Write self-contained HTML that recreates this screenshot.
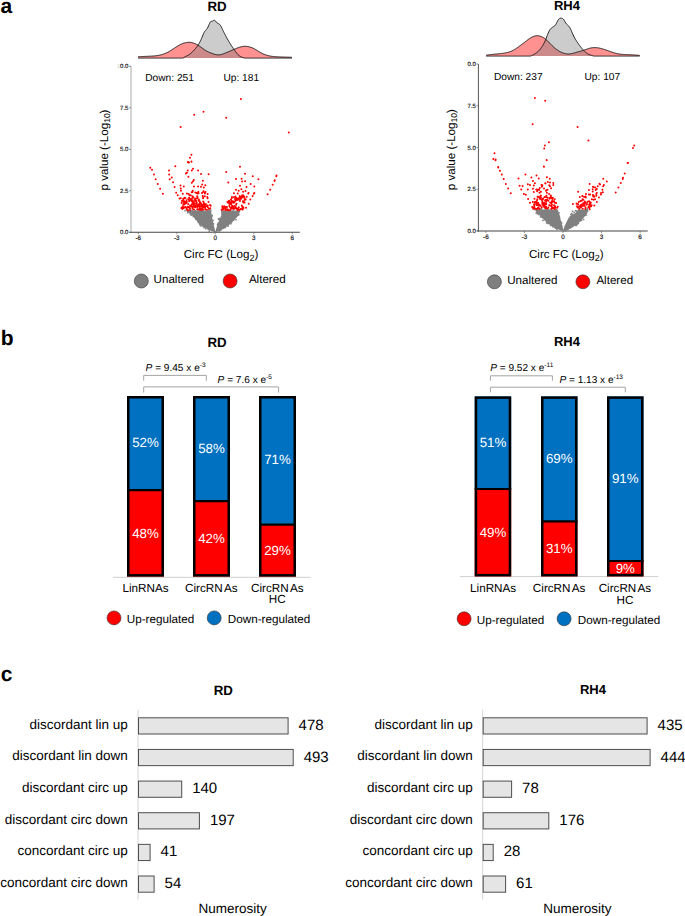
<!DOCTYPE html>
<html><head><meta charset="utf-8"><style>
html,body{margin:0;padding:0;background:#fff;}
svg{display:block;font-family:"Liberation Sans", sans-serif;text-rendering:geometricPrecision;}
</style></head><body>
<svg width="685" height="916" viewBox="0 0 685 916">
<text x="0.60" y="13.10" font-size="21" text-anchor="start" font-weight="bold" fill="#000" >a</text>
<text x="0.80" y="345.20" font-size="21" text-anchor="start" font-weight="bold" fill="#000" >b</text>
<text x="0.80" y="681.00" font-size="21" text-anchor="start" font-weight="bold" fill="#000" >c</text>
<text x="217.00" y="10.90" font-size="13.3" text-anchor="middle" font-weight="bold" fill="#000" >RD</text>
<text x="567.00" y="9.90" font-size="13.0" text-anchor="middle" font-weight="bold" fill="#000" >RH4</text>
<path d="M138.00,58.10 L138.00,56.80 L138.50,56.77 L139.00,56.74 L139.50,56.72 L140.00,56.69 L140.50,56.66 L141.00,56.64 L141.50,56.61 L142.00,56.58 L142.50,56.56 L143.00,56.53 L143.50,56.50 L144.00,56.48 L144.50,56.45 L145.00,56.43 L145.50,56.40 L146.00,56.38 L146.50,56.35 L147.00,56.33 L147.50,56.31 L148.00,56.29 L148.50,56.26 L149.00,56.24 L149.50,56.22 L150.00,56.20 L150.50,56.17 L151.00,56.15 L151.50,56.12 L152.00,56.09 L152.50,56.06 L153.00,56.03 L153.50,55.99 L154.00,55.95 L154.50,55.91 L155.00,55.86 L155.50,55.80 L156.00,55.75 L156.50,55.68 L157.00,55.62 L157.50,55.54 L158.00,55.46 L158.50,55.37 L159.00,55.28 L159.50,55.18 L160.00,55.07 L160.50,54.95 L161.00,54.83 L161.50,54.70 L162.00,54.56 L162.50,54.41 L163.00,54.25 L163.50,54.08 L164.00,53.90 L164.50,53.71 L165.00,53.51 L165.50,53.30 L166.00,53.08 L166.50,52.85 L167.00,52.61 L167.50,52.36 L168.00,52.10 L168.50,51.82 L169.00,51.54 L169.50,51.25 L170.00,50.96 L170.50,50.66 L171.00,50.35 L171.50,50.03 L172.00,49.71 L172.50,49.39 L173.00,49.06 L173.50,48.73 L174.00,48.40 L174.50,48.07 L175.00,47.74 L175.50,47.41 L176.00,47.08 L176.50,46.75 L177.00,46.44 L177.50,46.12 L178.00,45.82 L178.50,45.52 L179.00,45.24 L179.50,44.96 L180.00,44.70 L180.50,44.45 L181.00,44.22 L181.50,44.00 L182.00,43.79 L182.50,43.60 L183.00,43.42 L183.50,43.26 L184.00,43.11 L184.50,42.97 L185.00,42.84 L185.50,42.73 L186.00,42.63 L186.50,42.53 L187.00,42.46 L187.50,42.39 L188.00,42.33 L188.50,42.29 L189.00,42.27 L189.50,42.27 L190.00,42.30 L190.50,42.36 L191.00,42.44 L191.50,42.55 L192.00,42.67 L192.50,42.81 L193.00,42.95 L193.50,43.11 L194.00,43.28 L194.50,43.47 L195.00,43.66 L195.50,43.87 L196.00,44.10 L196.50,44.34 L197.00,44.60 L197.50,44.87 L198.00,45.16 L198.50,45.47 L199.00,45.79 L199.50,46.13 L200.00,46.47 L200.50,46.83 L201.00,47.19 L201.50,47.56 L202.00,47.93 L202.50,48.30 L203.00,48.66 L203.50,49.03 L204.00,49.38 L204.50,49.73 L205.00,50.07 L205.50,50.39 L206.00,50.70 L206.50,50.99 L207.00,51.27 L207.50,51.53 L208.00,51.77 L208.50,52.01 L209.00,52.23 L209.50,52.44 L210.00,52.65 L210.50,52.84 L211.00,53.03 L211.50,53.21 L212.00,53.39 L212.50,53.57 L213.00,53.74 L213.50,53.91 L214.00,54.07 L214.50,54.22 L215.00,54.37 L215.50,54.50 L216.00,54.61 L216.50,54.71 L217.00,54.79 L217.50,54.85 L218.00,54.89 L218.50,54.90 L219.00,54.88 L219.50,54.84 L220.00,54.77 L220.50,54.68 L221.00,54.57 L221.50,54.45 L222.00,54.30 L222.50,54.14 L223.00,53.97 L223.50,53.79 L224.00,53.59 L224.50,53.40 L225.00,53.19 L225.50,52.98 L226.00,52.77 L226.50,52.57 L227.00,52.36 L227.50,52.14 L228.00,51.93 L228.50,51.72 L229.00,51.51 L229.50,51.30 L230.00,51.09 L230.50,50.87 L231.00,50.66 L231.50,50.45 L232.00,50.24 L232.50,50.02 L233.00,49.81 L233.50,49.60 L234.00,49.38 L234.50,49.17 L235.00,48.96 L235.50,48.75 L236.00,48.54 L236.50,48.34 L237.00,48.14 L237.50,47.95 L238.00,47.76 L238.50,47.58 L239.00,47.41 L239.50,47.25 L240.00,47.10 L240.50,46.96 L241.00,46.83 L241.50,46.72 L242.00,46.61 L242.50,46.52 L243.00,46.45 L243.50,46.39 L244.00,46.34 L244.50,46.31 L245.00,46.30 L245.50,46.30 L246.00,46.32 L246.50,46.36 L247.00,46.41 L247.50,46.48 L248.00,46.56 L248.50,46.66 L249.00,46.77 L249.50,46.90 L250.00,47.04 L250.50,47.19 L251.00,47.35 L251.50,47.53 L252.00,47.73 L252.50,47.94 L253.00,48.16 L253.50,48.40 L254.00,48.65 L254.50,48.92 L255.00,49.20 L255.50,49.48 L256.00,49.78 L256.50,50.08 L257.00,50.39 L257.50,50.70 L258.00,51.01 L258.50,51.32 L259.00,51.62 L259.50,51.93 L260.00,52.22 L260.50,52.51 L261.00,52.79 L261.50,53.06 L262.00,53.32 L262.50,53.56 L263.00,53.79 L263.50,54.02 L264.00,54.23 L264.50,54.43 L265.00,54.62 L265.50,54.80 L266.00,54.97 L266.50,55.13 L267.00,55.28 L267.50,55.42 L268.00,55.55 L268.50,55.68 L269.00,55.79 L269.50,55.90 L270.00,56.00 L270.50,56.09 L271.00,56.18 L271.50,56.26 L272.00,56.33 L272.50,56.40 L273.00,56.46 L273.50,56.52 L274.00,56.57 L274.50,56.62 L275.00,56.66 L275.50,56.70 L276.00,56.74 L276.50,56.77 L277.00,56.80 L277.50,56.83 L278.00,56.86 L278.50,56.88 L279.00,56.90 L279.50,56.92 L280.00,56.94 L280.50,56.95 L281.00,56.97 L281.50,56.98 L282.00,57.00 L282.50,57.02 L283.00,57.03 L283.50,57.05 L284.00,57.06 L284.50,57.08 L285.00,57.09 L285.50,57.11 L286.00,57.12 L286.50,57.14 L287.00,57.15 L287.50,57.17 L288.00,57.18 L288.50,57.20 L289.00,57.21 L289.50,57.23 L290.00,57.24 L290.50,57.26 L291.00,57.27 L291.50,57.29 L292.00,57.30 L292.00,58.10 Z" fill="rgba(255,0,0,0.43)" stroke="none"/>
<path d="M138.00,58.10 L138.00,58.10 L138.50,58.10 L139.00,58.10 L139.50,58.10 L140.00,58.10 L140.50,58.10 L141.00,58.10 L141.50,58.10 L142.00,58.10 L142.50,58.10 L143.00,58.10 L143.50,58.10 L144.00,58.10 L144.50,58.10 L145.00,58.10 L145.50,58.10 L146.00,58.10 L146.50,58.10 L147.00,58.10 L147.50,58.10 L148.00,58.10 L148.50,58.10 L149.00,58.10 L149.50,58.10 L150.00,58.10 L150.50,58.10 L151.00,58.10 L151.50,58.10 L152.00,58.10 L152.50,58.10 L153.00,58.10 L153.50,58.10 L154.00,58.10 L154.50,58.10 L155.00,58.10 L155.50,58.10 L156.00,58.10 L156.50,58.10 L157.00,58.10 L157.50,58.10 L158.00,58.10 L158.50,58.10 L159.00,58.10 L159.50,58.10 L160.00,58.10 L160.50,58.10 L161.00,58.10 L161.50,58.10 L162.00,58.10 L162.50,58.10 L163.00,58.10 L163.50,58.10 L164.00,58.10 L164.50,58.10 L165.00,58.10 L165.50,58.10 L166.00,58.10 L166.50,58.10 L167.00,58.10 L167.50,58.10 L168.00,58.10 L168.50,58.10 L169.00,58.10 L169.50,58.10 L170.00,58.10 L170.50,58.10 L171.00,58.10 L171.50,58.10 L172.00,58.10 L172.50,58.10 L173.00,58.10 L173.50,58.10 L174.00,58.10 L174.50,58.10 L175.00,58.10 L175.50,58.10 L176.00,58.10 L176.50,58.10 L177.00,58.10 L177.50,58.10 L178.00,58.10 L178.50,58.10 L179.00,58.10 L179.50,58.10 L180.00,58.10 L180.50,58.10 L181.00,58.10 L181.50,58.10 L182.00,58.10 L182.50,58.10 L183.00,58.10 L183.50,57.78 L184.00,57.46 L184.50,57.16 L185.00,56.88 L185.50,56.60 L186.00,56.33 L186.50,56.07 L187.00,55.80 L187.50,55.53 L188.00,55.24 L188.50,54.95 L189.00,54.64 L189.50,54.31 L190.00,53.95 L190.50,53.57 L191.00,53.15 L191.50,52.71 L192.00,52.24 L192.50,51.76 L193.00,51.25 L193.50,50.72 L194.00,50.18 L194.50,49.62 L195.00,49.05 L195.50,48.47 L196.00,47.87 L196.50,47.26 L197.00,46.62 L197.50,45.94 L198.00,45.22 L198.50,44.44 L199.00,43.60 L199.50,42.71 L200.00,41.75 L200.50,40.73 L201.00,39.65 L201.50,38.50 L202.00,37.30 L202.50,36.07 L203.00,34.87 L203.50,33.73 L204.00,32.69 L204.50,31.80 L205.00,31.08 L205.50,30.48 L206.00,29.94 L206.50,29.39 L207.00,28.76 L207.50,27.98 L208.00,27.00 L208.50,25.88 L209.00,24.71 L209.50,23.57 L210.00,22.58 L210.50,21.82 L211.00,21.38 L211.50,21.22 L212.00,21.19 L212.50,21.15 L213.00,20.97 L213.50,20.66 L214.00,20.38 L214.50,20.26 L215.00,20.46 L215.50,20.94 L216.00,21.59 L216.50,22.25 L217.00,22.80 L217.50,23.18 L218.00,23.46 L218.50,23.70 L219.00,23.96 L219.50,24.31 L220.00,24.82 L220.50,25.51 L221.00,26.35 L221.50,27.32 L222.00,28.36 L222.50,29.44 L223.00,30.51 L223.50,31.56 L224.00,32.57 L224.50,33.55 L225.00,34.52 L225.50,35.46 L226.00,36.40 L226.50,37.33 L227.00,38.24 L227.50,39.15 L228.00,40.04 L228.50,40.92 L229.00,41.78 L229.50,42.62 L230.00,43.44 L230.50,44.24 L231.00,45.02 L231.50,45.78 L232.00,46.53 L232.50,47.26 L233.00,47.98 L233.50,48.70 L234.00,49.42 L234.50,50.13 L235.00,50.83 L235.50,51.53 L236.00,52.21 L236.50,52.86 L237.00,53.48 L237.50,54.06 L238.00,54.60 L238.50,55.08 L239.00,55.52 L239.50,55.90 L240.00,56.24 L240.50,56.54 L241.00,56.81 L241.50,57.04 L242.00,57.25 L242.50,57.42 L243.00,57.58 L243.50,57.73 L244.00,57.86 L244.50,57.98 L245.00,58.10 L245.50,58.10 L246.00,58.10 L246.50,58.10 L247.00,58.10 L247.50,58.10 L248.00,58.10 L248.50,58.10 L249.00,58.10 L249.50,58.10 L250.00,58.10 L250.50,58.10 L251.00,58.10 L251.50,58.10 L252.00,58.10 L252.50,58.10 L253.00,58.10 L253.50,58.10 L254.00,58.10 L254.50,58.10 L255.00,58.10 L255.50,58.10 L256.00,58.10 L256.50,58.10 L257.00,58.10 L257.50,58.10 L258.00,58.10 L258.50,58.10 L259.00,58.10 L259.50,58.10 L260.00,58.10 L260.50,58.10 L261.00,58.10 L261.50,58.10 L262.00,58.10 L262.50,58.10 L263.00,58.10 L263.50,58.10 L264.00,58.10 L264.50,58.10 L265.00,58.10 L265.50,58.10 L266.00,58.10 L266.50,58.10 L267.00,58.10 L267.50,58.10 L268.00,58.10 L268.50,58.10 L269.00,58.10 L269.50,58.10 L270.00,58.10 L270.50,58.10 L271.00,58.10 L271.50,58.10 L272.00,58.10 L272.50,58.10 L273.00,58.10 L273.50,58.10 L274.00,58.10 L274.50,58.10 L275.00,58.10 L275.50,58.10 L276.00,58.10 L276.50,58.10 L277.00,58.10 L277.50,58.10 L278.00,58.10 L278.50,58.10 L279.00,58.10 L279.50,58.10 L280.00,58.10 L280.50,58.10 L281.00,58.10 L281.50,58.10 L282.00,58.10 L282.50,58.10 L283.00,58.10 L283.50,58.10 L284.00,58.10 L284.50,58.10 L285.00,58.10 L285.50,58.10 L286.00,58.10 L286.50,58.10 L287.00,58.10 L287.50,58.10 L288.00,58.10 L288.50,58.10 L289.00,58.10 L289.50,58.10 L290.00,58.10 L290.50,58.10 L291.00,58.10 L291.50,58.10 L292.00,58.10 L292.00,58.10 Z" fill="rgba(128,128,128,0.4)" stroke="none"/>
<path d="M138.00,56.80 L138.50,56.77 L139.00,56.74 L139.50,56.72 L140.00,56.69 L140.50,56.66 L141.00,56.64 L141.50,56.61 L142.00,56.58 L142.50,56.56 L143.00,56.53 L143.50,56.50 L144.00,56.48 L144.50,56.45 L145.00,56.43 L145.50,56.40 L146.00,56.38 L146.50,56.35 L147.00,56.33 L147.50,56.31 L148.00,56.29 L148.50,56.26 L149.00,56.24 L149.50,56.22 L150.00,56.20 L150.50,56.17 L151.00,56.15 L151.50,56.12 L152.00,56.09 L152.50,56.06 L153.00,56.03 L153.50,55.99 L154.00,55.95 L154.50,55.91 L155.00,55.86 L155.50,55.80 L156.00,55.75 L156.50,55.68 L157.00,55.62 L157.50,55.54 L158.00,55.46 L158.50,55.37 L159.00,55.28 L159.50,55.18 L160.00,55.07 L160.50,54.95 L161.00,54.83 L161.50,54.70 L162.00,54.56 L162.50,54.41 L163.00,54.25 L163.50,54.08 L164.00,53.90 L164.50,53.71 L165.00,53.51 L165.50,53.30 L166.00,53.08 L166.50,52.85 L167.00,52.61 L167.50,52.36 L168.00,52.10 L168.50,51.82 L169.00,51.54 L169.50,51.25 L170.00,50.96 L170.50,50.66 L171.00,50.35 L171.50,50.03 L172.00,49.71 L172.50,49.39 L173.00,49.06 L173.50,48.73 L174.00,48.40 L174.50,48.07 L175.00,47.74 L175.50,47.41 L176.00,47.08 L176.50,46.75 L177.00,46.44 L177.50,46.12 L178.00,45.82 L178.50,45.52 L179.00,45.24 L179.50,44.96 L180.00,44.70 L180.50,44.45 L181.00,44.22 L181.50,44.00 L182.00,43.79 L182.50,43.60 L183.00,43.42 L183.50,43.26 L184.00,43.11 L184.50,42.97 L185.00,42.84 L185.50,42.73 L186.00,42.63 L186.50,42.53 L187.00,42.46 L187.50,42.39 L188.00,42.33 L188.50,42.29 L189.00,42.27 L189.50,42.27 L190.00,42.30 L190.50,42.36 L191.00,42.44 L191.50,42.55 L192.00,42.67 L192.50,42.81 L193.00,42.95 L193.50,43.11 L194.00,43.28 L194.50,43.47 L195.00,43.66 L195.50,43.87 L196.00,44.10 L196.50,44.34 L197.00,44.60 L197.50,44.87 L198.00,45.16 L198.50,45.47 L199.00,45.79 L199.50,46.13 L200.00,46.47 L200.50,46.83 L201.00,47.19 L201.50,47.56 L202.00,47.93 L202.50,48.30 L203.00,48.66 L203.50,49.03 L204.00,49.38 L204.50,49.73 L205.00,50.07 L205.50,50.39 L206.00,50.70 L206.50,50.99 L207.00,51.27 L207.50,51.53 L208.00,51.77 L208.50,52.01 L209.00,52.23 L209.50,52.44 L210.00,52.65 L210.50,52.84 L211.00,53.03 L211.50,53.21 L212.00,53.39 L212.50,53.57 L213.00,53.74 L213.50,53.91 L214.00,54.07 L214.50,54.22 L215.00,54.37 L215.50,54.50 L216.00,54.61 L216.50,54.71 L217.00,54.79 L217.50,54.85 L218.00,54.89 L218.50,54.90 L219.00,54.88 L219.50,54.84 L220.00,54.77 L220.50,54.68 L221.00,54.57 L221.50,54.45 L222.00,54.30 L222.50,54.14 L223.00,53.97 L223.50,53.79 L224.00,53.59 L224.50,53.40 L225.00,53.19 L225.50,52.98 L226.00,52.77 L226.50,52.57 L227.00,52.36 L227.50,52.14 L228.00,51.93 L228.50,51.72 L229.00,51.51 L229.50,51.30 L230.00,51.09 L230.50,50.87 L231.00,50.66 L231.50,50.45 L232.00,50.24 L232.50,50.02 L233.00,49.81 L233.50,49.60 L234.00,49.38 L234.50,49.17 L235.00,48.96 L235.50,48.75 L236.00,48.54 L236.50,48.34 L237.00,48.14 L237.50,47.95 L238.00,47.76 L238.50,47.58 L239.00,47.41 L239.50,47.25 L240.00,47.10 L240.50,46.96 L241.00,46.83 L241.50,46.72 L242.00,46.61 L242.50,46.52 L243.00,46.45 L243.50,46.39 L244.00,46.34 L244.50,46.31 L245.00,46.30 L245.50,46.30 L246.00,46.32 L246.50,46.36 L247.00,46.41 L247.50,46.48 L248.00,46.56 L248.50,46.66 L249.00,46.77 L249.50,46.90 L250.00,47.04 L250.50,47.19 L251.00,47.35 L251.50,47.53 L252.00,47.73 L252.50,47.94 L253.00,48.16 L253.50,48.40 L254.00,48.65 L254.50,48.92 L255.00,49.20 L255.50,49.48 L256.00,49.78 L256.50,50.08 L257.00,50.39 L257.50,50.70 L258.00,51.01 L258.50,51.32 L259.00,51.62 L259.50,51.93 L260.00,52.22 L260.50,52.51 L261.00,52.79 L261.50,53.06 L262.00,53.32 L262.50,53.56 L263.00,53.79 L263.50,54.02 L264.00,54.23 L264.50,54.43 L265.00,54.62 L265.50,54.80 L266.00,54.97 L266.50,55.13 L267.00,55.28 L267.50,55.42 L268.00,55.55 L268.50,55.68 L269.00,55.79 L269.50,55.90 L270.00,56.00 L270.50,56.09 L271.00,56.18 L271.50,56.26 L272.00,56.33 L272.50,56.40 L273.00,56.46 L273.50,56.52 L274.00,56.57 L274.50,56.62 L275.00,56.66 L275.50,56.70 L276.00,56.74 L276.50,56.77 L277.00,56.80 L277.50,56.83 L278.00,56.86 L278.50,56.88 L279.00,56.90 L279.50,56.92 L280.00,56.94 L280.50,56.95 L281.00,56.97 L281.50,56.98 L282.00,57.00 L282.50,57.02 L283.00,57.03 L283.50,57.05 L284.00,57.06 L284.50,57.08 L285.00,57.09 L285.50,57.11 L286.00,57.12 L286.50,57.14 L287.00,57.15 L287.50,57.17 L288.00,57.18 L288.50,57.20 L289.00,57.21 L289.50,57.23 L290.00,57.24 L290.50,57.26 L291.00,57.27 L291.50,57.29 L292.00,57.30" fill="none" stroke="#111" stroke-width="0.9"/>
<path d="M138.00,58.10 L138.50,58.10 L139.00,58.10 L139.50,58.10 L140.00,58.10 L140.50,58.10 L141.00,58.10 L141.50,58.10 L142.00,58.10 L142.50,58.10 L143.00,58.10 L143.50,58.10 L144.00,58.10 L144.50,58.10 L145.00,58.10 L145.50,58.10 L146.00,58.10 L146.50,58.10 L147.00,58.10 L147.50,58.10 L148.00,58.10 L148.50,58.10 L149.00,58.10 L149.50,58.10 L150.00,58.10 L150.50,58.10 L151.00,58.10 L151.50,58.10 L152.00,58.10 L152.50,58.10 L153.00,58.10 L153.50,58.10 L154.00,58.10 L154.50,58.10 L155.00,58.10 L155.50,58.10 L156.00,58.10 L156.50,58.10 L157.00,58.10 L157.50,58.10 L158.00,58.10 L158.50,58.10 L159.00,58.10 L159.50,58.10 L160.00,58.10 L160.50,58.10 L161.00,58.10 L161.50,58.10 L162.00,58.10 L162.50,58.10 L163.00,58.10 L163.50,58.10 L164.00,58.10 L164.50,58.10 L165.00,58.10 L165.50,58.10 L166.00,58.10 L166.50,58.10 L167.00,58.10 L167.50,58.10 L168.00,58.10 L168.50,58.10 L169.00,58.10 L169.50,58.10 L170.00,58.10 L170.50,58.10 L171.00,58.10 L171.50,58.10 L172.00,58.10 L172.50,58.10 L173.00,58.10 L173.50,58.10 L174.00,58.10 L174.50,58.10 L175.00,58.10 L175.50,58.10 L176.00,58.10 L176.50,58.10 L177.00,58.10 L177.50,58.10 L178.00,58.10 L178.50,58.10 L179.00,58.10 L179.50,58.10 L180.00,58.10 L180.50,58.10 L181.00,58.10 L181.50,58.10 L182.00,58.10 L182.50,58.10 L183.00,58.10 L183.50,57.78 L184.00,57.46 L184.50,57.16 L185.00,56.88 L185.50,56.60 L186.00,56.33 L186.50,56.07 L187.00,55.80 L187.50,55.53 L188.00,55.24 L188.50,54.95 L189.00,54.64 L189.50,54.31 L190.00,53.95 L190.50,53.57 L191.00,53.15 L191.50,52.71 L192.00,52.24 L192.50,51.76 L193.00,51.25 L193.50,50.72 L194.00,50.18 L194.50,49.62 L195.00,49.05 L195.50,48.47 L196.00,47.87 L196.50,47.26 L197.00,46.62 L197.50,45.94 L198.00,45.22 L198.50,44.44 L199.00,43.60 L199.50,42.71 L200.00,41.75 L200.50,40.73 L201.00,39.65 L201.50,38.50 L202.00,37.30 L202.50,36.07 L203.00,34.87 L203.50,33.73 L204.00,32.69 L204.50,31.80 L205.00,31.08 L205.50,30.48 L206.00,29.94 L206.50,29.39 L207.00,28.76 L207.50,27.98 L208.00,27.00 L208.50,25.88 L209.00,24.71 L209.50,23.57 L210.00,22.58 L210.50,21.82 L211.00,21.38 L211.50,21.22 L212.00,21.19 L212.50,21.15 L213.00,20.97 L213.50,20.66 L214.00,20.38 L214.50,20.26 L215.00,20.46 L215.50,20.94 L216.00,21.59 L216.50,22.25 L217.00,22.80 L217.50,23.18 L218.00,23.46 L218.50,23.70 L219.00,23.96 L219.50,24.31 L220.00,24.82 L220.50,25.51 L221.00,26.35 L221.50,27.32 L222.00,28.36 L222.50,29.44 L223.00,30.51 L223.50,31.56 L224.00,32.57 L224.50,33.55 L225.00,34.52 L225.50,35.46 L226.00,36.40 L226.50,37.33 L227.00,38.24 L227.50,39.15 L228.00,40.04 L228.50,40.92 L229.00,41.78 L229.50,42.62 L230.00,43.44 L230.50,44.24 L231.00,45.02 L231.50,45.78 L232.00,46.53 L232.50,47.26 L233.00,47.98 L233.50,48.70 L234.00,49.42 L234.50,50.13 L235.00,50.83 L235.50,51.53 L236.00,52.21 L236.50,52.86 L237.00,53.48 L237.50,54.06 L238.00,54.60 L238.50,55.08 L239.00,55.52 L239.50,55.90 L240.00,56.24 L240.50,56.54 L241.00,56.81 L241.50,57.04 L242.00,57.25 L242.50,57.42 L243.00,57.58 L243.50,57.73 L244.00,57.86 L244.50,57.98 L245.00,58.10 L245.50,58.10 L246.00,58.10 L246.50,58.10 L247.00,58.10 L247.50,58.10 L248.00,58.10 L248.50,58.10 L249.00,58.10 L249.50,58.10 L250.00,58.10 L250.50,58.10 L251.00,58.10 L251.50,58.10 L252.00,58.10 L252.50,58.10 L253.00,58.10 L253.50,58.10 L254.00,58.10 L254.50,58.10 L255.00,58.10 L255.50,58.10 L256.00,58.10 L256.50,58.10 L257.00,58.10 L257.50,58.10 L258.00,58.10 L258.50,58.10 L259.00,58.10 L259.50,58.10 L260.00,58.10 L260.50,58.10 L261.00,58.10 L261.50,58.10 L262.00,58.10 L262.50,58.10 L263.00,58.10 L263.50,58.10 L264.00,58.10 L264.50,58.10 L265.00,58.10 L265.50,58.10 L266.00,58.10 L266.50,58.10 L267.00,58.10 L267.50,58.10 L268.00,58.10 L268.50,58.10 L269.00,58.10 L269.50,58.10 L270.00,58.10 L270.50,58.10 L271.00,58.10 L271.50,58.10 L272.00,58.10 L272.50,58.10 L273.00,58.10 L273.50,58.10 L274.00,58.10 L274.50,58.10 L275.00,58.10 L275.50,58.10 L276.00,58.10 L276.50,58.10 L277.00,58.10 L277.50,58.10 L278.00,58.10 L278.50,58.10 L279.00,58.10 L279.50,58.10 L280.00,58.10 L280.50,58.10 L281.00,58.10 L281.50,58.10 L282.00,58.10 L282.50,58.10 L283.00,58.10 L283.50,58.10 L284.00,58.10 L284.50,58.10 L285.00,58.10 L285.50,58.10 L286.00,58.10 L286.50,58.10 L287.00,58.10 L287.50,58.10 L288.00,58.10 L288.50,58.10 L289.00,58.10 L289.50,58.10 L290.00,58.10 L290.50,58.10 L291.00,58.10 L291.50,58.10 L292.00,58.10" fill="none" stroke="#111" stroke-width="0.9"/>
<path d="M486.20,56.10 L486.20,55.20 L486.70,55.13 L487.20,55.06 L487.70,54.99 L488.20,54.92 L488.70,54.86 L489.20,54.79 L489.70,54.72 L490.20,54.66 L490.70,54.60 L491.20,54.53 L491.70,54.47 L492.20,54.42 L492.70,54.36 L493.20,54.31 L493.70,54.26 L494.20,54.21 L494.70,54.16 L495.20,54.11 L495.70,54.06 L496.20,54.02 L496.70,53.97 L497.20,53.93 L497.70,53.88 L498.20,53.84 L498.70,53.79 L499.20,53.74 L499.70,53.69 L500.20,53.64 L500.70,53.59 L501.20,53.53 L501.70,53.48 L502.20,53.42 L502.70,53.35 L503.20,53.29 L503.70,53.21 L504.20,53.14 L504.70,53.06 L505.20,52.97 L505.70,52.87 L506.20,52.77 L506.70,52.66 L507.20,52.55 L507.70,52.42 L508.20,52.29 L508.70,52.14 L509.20,51.99 L509.70,51.82 L510.20,51.65 L510.70,51.46 L511.20,51.26 L511.70,51.05 L512.20,50.82 L512.70,50.58 L513.20,50.33 L513.70,50.06 L514.20,49.77 L514.70,49.47 L515.20,49.16 L515.70,48.84 L516.20,48.50 L516.70,48.16 L517.20,47.81 L517.70,47.45 L518.20,47.09 L518.70,46.72 L519.20,46.35 L519.70,45.98 L520.20,45.61 L520.70,45.24 L521.20,44.86 L521.70,44.49 L522.20,44.11 L522.70,43.73 L523.20,43.35 L523.70,42.96 L524.20,42.58 L524.70,42.19 L525.20,41.80 L525.70,41.41 L526.20,41.02 L526.70,40.64 L527.20,40.25 L527.70,39.88 L528.20,39.51 L528.70,39.15 L529.20,38.80 L529.70,38.47 L530.20,38.14 L530.70,37.83 L531.20,37.54 L531.70,37.26 L532.20,37.00 L532.70,36.76 L533.20,36.54 L533.70,36.35 L534.20,36.17 L534.70,36.03 L535.20,35.91 L535.70,35.81 L536.20,35.75 L536.70,35.71 L537.20,35.70 L537.70,35.71 L538.20,35.76 L538.70,35.83 L539.20,35.93 L539.70,36.05 L540.20,36.19 L540.70,36.36 L541.20,36.55 L541.70,36.76 L542.20,36.98 L542.70,37.23 L543.20,37.50 L543.70,37.80 L544.20,38.11 L544.70,38.45 L545.20,38.82 L545.70,39.22 L546.20,39.64 L546.70,40.09 L547.20,40.56 L547.70,41.06 L548.20,41.56 L548.70,42.08 L549.20,42.60 L549.70,43.13 L550.20,43.66 L550.70,44.18 L551.20,44.70 L551.70,45.20 L552.20,45.69 L552.70,46.17 L553.20,46.64 L553.70,47.09 L554.20,47.53 L554.70,47.96 L555.20,48.37 L555.70,48.77 L556.20,49.16 L556.70,49.53 L557.20,49.89 L557.70,50.23 L558.20,50.56 L558.70,50.88 L559.20,51.17 L559.70,51.46 L560.20,51.73 L560.70,51.98 L561.20,52.22 L561.70,52.45 L562.20,52.66 L562.70,52.85 L563.20,53.03 L563.70,53.20 L564.20,53.34 L564.70,53.48 L565.20,53.60 L565.70,53.70 L566.20,53.78 L566.70,53.85 L567.20,53.91 L567.70,53.94 L568.20,53.96 L568.70,53.97 L569.20,53.95 L569.70,53.92 L570.20,53.87 L570.70,53.80 L571.20,53.72 L571.70,53.62 L572.20,53.51 L572.70,53.39 L573.20,53.26 L573.70,53.12 L574.20,52.98 L574.70,52.83 L575.20,52.69 L575.70,52.54 L576.20,52.39 L576.70,52.24 L577.20,52.10 L577.70,51.96 L578.20,51.82 L578.70,51.68 L579.20,51.55 L579.70,51.41 L580.20,51.27 L580.70,51.13 L581.20,50.99 L581.70,50.85 L582.20,50.70 L582.70,50.55 L583.20,50.39 L583.70,50.23 L584.20,50.07 L584.70,49.89 L585.20,49.72 L585.70,49.54 L586.20,49.36 L586.70,49.19 L587.20,49.01 L587.70,48.84 L588.20,48.68 L588.70,48.53 L589.20,48.38 L589.70,48.25 L590.20,48.12 L590.70,48.01 L591.20,47.92 L591.70,47.83 L592.20,47.76 L592.70,47.69 L593.20,47.65 L593.70,47.61 L594.20,47.59 L594.70,47.58 L595.20,47.58 L595.70,47.60 L596.20,47.63 L596.70,47.67 L597.20,47.73 L597.70,47.80 L598.20,47.88 L598.70,47.97 L599.20,48.06 L599.70,48.17 L600.20,48.29 L600.70,48.41 L601.20,48.54 L601.70,48.67 L602.20,48.81 L602.70,48.96 L603.20,49.11 L603.70,49.26 L604.20,49.42 L604.70,49.58 L605.20,49.75 L605.70,49.92 L606.20,50.09 L606.70,50.26 L607.20,50.44 L607.70,50.61 L608.20,50.79 L608.70,50.97 L609.20,51.15 L609.70,51.33 L610.20,51.51 L610.70,51.69 L611.20,51.86 L611.70,52.04 L612.20,52.21 L612.70,52.37 L613.20,52.54 L613.70,52.69 L614.20,52.84 L614.70,52.99 L615.20,53.13 L615.70,53.26 L616.20,53.38 L616.70,53.50 L617.20,53.61 L617.70,53.71 L618.20,53.81 L618.70,53.90 L619.20,53.98 L619.70,54.05 L620.20,54.12 L620.70,54.19 L621.20,54.25 L621.70,54.30 L622.20,54.34 L622.70,54.39 L623.20,54.42 L623.70,54.46 L624.20,54.49 L624.70,54.51 L625.20,54.54 L625.70,54.56 L626.20,54.58 L626.70,54.60 L627.20,54.62 L627.70,54.64 L628.20,54.66 L628.70,54.68 L629.20,54.70 L629.70,54.72 L630.20,54.74 L630.70,54.77 L631.20,54.79 L631.70,54.82 L632.20,54.85 L632.70,54.88 L633.20,54.91 L633.70,54.95 L634.20,54.98 L634.70,55.01 L635.20,55.05 L635.70,55.09 L636.20,55.12 L636.70,55.16 L637.20,55.20 L637.70,55.24 L638.20,55.27 L638.70,55.31 L639.20,55.35 L639.70,55.39 L639.80,56.10 Z" fill="rgba(255,0,0,0.43)" stroke="none"/>
<path d="M486.20,56.10 L486.20,56.10 L486.70,56.10 L487.20,56.10 L487.70,56.10 L488.20,56.10 L488.70,56.10 L489.20,56.10 L489.70,56.10 L490.20,56.10 L490.70,56.10 L491.20,56.10 L491.70,56.10 L492.20,56.10 L492.70,56.10 L493.20,56.10 L493.70,56.10 L494.20,56.10 L494.70,56.10 L495.20,56.10 L495.70,56.10 L496.20,56.10 L496.70,56.10 L497.20,56.10 L497.70,56.10 L498.20,56.10 L498.70,56.10 L499.20,56.10 L499.70,56.10 L500.20,56.10 L500.70,56.10 L501.20,56.10 L501.70,56.10 L502.20,56.10 L502.70,56.10 L503.20,56.10 L503.70,56.10 L504.20,56.10 L504.70,56.10 L505.20,56.10 L505.70,56.10 L506.20,56.10 L506.70,56.10 L507.20,56.10 L507.70,56.10 L508.20,56.10 L508.70,56.10 L509.20,56.10 L509.70,56.10 L510.20,56.10 L510.70,56.10 L511.20,56.10 L511.70,56.10 L512.20,56.10 L512.70,56.10 L513.20,56.10 L513.70,56.10 L514.20,56.10 L514.70,56.10 L515.20,56.10 L515.70,56.10 L516.20,56.10 L516.70,56.10 L517.20,56.10 L517.70,56.10 L518.20,56.10 L518.70,56.10 L519.20,56.10 L519.70,56.10 L520.20,56.10 L520.70,56.10 L521.20,56.10 L521.70,56.10 L522.20,56.10 L522.70,56.10 L523.20,56.10 L523.70,56.10 L524.20,56.10 L524.70,56.10 L525.20,56.10 L525.70,56.10 L526.20,56.10 L526.70,56.10 L527.20,56.10 L527.70,56.10 L528.20,56.10 L528.70,56.10 L529.20,56.10 L529.70,56.10 L530.20,56.10 L530.70,56.01 L531.20,55.78 L531.70,55.55 L532.20,55.32 L532.70,55.07 L533.20,54.82 L533.70,54.55 L534.20,54.27 L534.70,53.98 L535.20,53.66 L535.70,53.33 L536.20,52.97 L536.70,52.60 L537.20,52.19 L537.70,51.76 L538.20,51.31 L538.70,50.82 L539.20,50.29 L539.70,49.74 L540.20,49.14 L540.70,48.51 L541.20,47.84 L541.70,47.13 L542.20,46.38 L542.70,45.57 L543.20,44.72 L543.70,43.82 L544.20,42.86 L544.70,41.83 L545.20,40.72 L545.70,39.55 L546.20,38.29 L546.70,36.98 L547.20,35.65 L547.70,34.34 L548.20,33.09 L548.70,31.93 L549.20,30.91 L549.70,30.03 L550.20,29.30 L550.70,28.69 L551.20,28.19 L551.70,27.77 L552.20,27.42 L552.70,27.13 L553.20,26.86 L553.70,26.57 L554.20,26.24 L554.70,25.83 L555.20,25.29 L555.70,24.60 L556.20,23.73 L556.70,22.75 L557.20,21.74 L557.70,20.76 L558.20,19.89 L558.70,19.22 L559.20,18.75 L559.70,18.45 L560.20,18.28 L560.70,18.21 L561.20,18.20 L561.70,18.24 L562.20,18.35 L562.70,18.59 L563.20,19.00 L563.70,19.59 L564.20,20.35 L564.70,21.20 L565.20,22.08 L565.70,22.91 L566.20,23.63 L566.70,24.22 L567.20,24.70 L567.70,25.13 L568.20,25.57 L568.70,26.06 L569.20,26.66 L569.70,27.41 L570.20,28.31 L570.70,29.32 L571.20,30.41 L571.70,31.56 L572.20,32.73 L572.70,33.88 L573.20,35.00 L573.70,36.05 L574.20,37.04 L574.70,37.97 L575.20,38.85 L575.70,39.69 L576.20,40.49 L576.70,41.26 L577.20,42.01 L577.70,42.75 L578.20,43.47 L578.70,44.19 L579.20,44.89 L579.70,45.58 L580.20,46.25 L580.70,46.91 L581.20,47.55 L581.70,48.18 L582.20,48.78 L582.70,49.36 L583.20,49.92 L583.70,50.46 L584.20,50.97 L584.70,51.45 L585.20,51.91 L585.70,52.35 L586.20,52.75 L586.70,53.13 L587.20,53.47 L587.70,53.78 L588.20,54.07 L588.70,54.33 L589.20,54.56 L589.70,54.77 L590.20,54.97 L590.70,55.14 L591.20,55.31 L591.70,55.46 L592.20,55.60 L592.70,55.74 L593.20,55.88 L593.70,56.02 L594.20,56.10 L594.70,56.10 L595.20,56.10 L595.70,56.10 L596.20,56.10 L596.70,56.10 L597.20,56.10 L597.70,56.10 L598.20,56.10 L598.70,56.10 L599.20,56.10 L599.70,56.10 L600.20,56.10 L600.70,56.10 L601.20,56.10 L601.70,56.10 L602.20,56.10 L602.70,56.10 L603.20,56.10 L603.70,56.10 L604.20,56.10 L604.70,56.10 L605.20,56.10 L605.70,56.10 L606.20,56.10 L606.70,56.10 L607.20,56.10 L607.70,56.10 L608.20,56.10 L608.70,56.10 L609.20,56.10 L609.70,56.10 L610.20,56.10 L610.70,56.10 L611.20,56.10 L611.70,56.10 L612.20,56.10 L612.70,56.10 L613.20,56.10 L613.70,56.10 L614.20,56.10 L614.70,56.10 L615.20,56.10 L615.70,56.10 L616.20,56.10 L616.70,56.10 L617.20,56.10 L617.70,56.10 L618.20,56.10 L618.70,56.10 L619.20,56.10 L619.70,56.10 L620.20,56.10 L620.70,56.10 L621.20,56.10 L621.70,56.10 L622.20,56.10 L622.70,56.10 L623.20,56.10 L623.70,56.10 L624.20,56.10 L624.70,56.10 L625.20,56.10 L625.70,56.10 L626.20,56.10 L626.70,56.10 L627.20,56.10 L627.70,56.10 L628.20,56.10 L628.70,56.10 L629.20,56.10 L629.70,56.10 L630.20,56.10 L630.70,56.10 L631.20,56.10 L631.70,56.10 L632.20,56.10 L632.70,56.10 L633.20,56.10 L633.70,56.10 L634.20,56.10 L634.70,56.10 L635.20,56.10 L635.70,56.10 L636.20,56.10 L636.70,56.10 L637.20,56.10 L637.70,56.10 L638.20,56.10 L638.70,56.10 L639.20,56.10 L639.70,56.10 L639.80,56.10 Z" fill="rgba(128,128,128,0.4)" stroke="none"/>
<path d="M486.20,55.20 L486.70,55.13 L487.20,55.06 L487.70,54.99 L488.20,54.92 L488.70,54.86 L489.20,54.79 L489.70,54.72 L490.20,54.66 L490.70,54.60 L491.20,54.53 L491.70,54.47 L492.20,54.42 L492.70,54.36 L493.20,54.31 L493.70,54.26 L494.20,54.21 L494.70,54.16 L495.20,54.11 L495.70,54.06 L496.20,54.02 L496.70,53.97 L497.20,53.93 L497.70,53.88 L498.20,53.84 L498.70,53.79 L499.20,53.74 L499.70,53.69 L500.20,53.64 L500.70,53.59 L501.20,53.53 L501.70,53.48 L502.20,53.42 L502.70,53.35 L503.20,53.29 L503.70,53.21 L504.20,53.14 L504.70,53.06 L505.20,52.97 L505.70,52.87 L506.20,52.77 L506.70,52.66 L507.20,52.55 L507.70,52.42 L508.20,52.29 L508.70,52.14 L509.20,51.99 L509.70,51.82 L510.20,51.65 L510.70,51.46 L511.20,51.26 L511.70,51.05 L512.20,50.82 L512.70,50.58 L513.20,50.33 L513.70,50.06 L514.20,49.77 L514.70,49.47 L515.20,49.16 L515.70,48.84 L516.20,48.50 L516.70,48.16 L517.20,47.81 L517.70,47.45 L518.20,47.09 L518.70,46.72 L519.20,46.35 L519.70,45.98 L520.20,45.61 L520.70,45.24 L521.20,44.86 L521.70,44.49 L522.20,44.11 L522.70,43.73 L523.20,43.35 L523.70,42.96 L524.20,42.58 L524.70,42.19 L525.20,41.80 L525.70,41.41 L526.20,41.02 L526.70,40.64 L527.20,40.25 L527.70,39.88 L528.20,39.51 L528.70,39.15 L529.20,38.80 L529.70,38.47 L530.20,38.14 L530.70,37.83 L531.20,37.54 L531.70,37.26 L532.20,37.00 L532.70,36.76 L533.20,36.54 L533.70,36.35 L534.20,36.17 L534.70,36.03 L535.20,35.91 L535.70,35.81 L536.20,35.75 L536.70,35.71 L537.20,35.70 L537.70,35.71 L538.20,35.76 L538.70,35.83 L539.20,35.93 L539.70,36.05 L540.20,36.19 L540.70,36.36 L541.20,36.55 L541.70,36.76 L542.20,36.98 L542.70,37.23 L543.20,37.50 L543.70,37.80 L544.20,38.11 L544.70,38.45 L545.20,38.82 L545.70,39.22 L546.20,39.64 L546.70,40.09 L547.20,40.56 L547.70,41.06 L548.20,41.56 L548.70,42.08 L549.20,42.60 L549.70,43.13 L550.20,43.66 L550.70,44.18 L551.20,44.70 L551.70,45.20 L552.20,45.69 L552.70,46.17 L553.20,46.64 L553.70,47.09 L554.20,47.53 L554.70,47.96 L555.20,48.37 L555.70,48.77 L556.20,49.16 L556.70,49.53 L557.20,49.89 L557.70,50.23 L558.20,50.56 L558.70,50.88 L559.20,51.17 L559.70,51.46 L560.20,51.73 L560.70,51.98 L561.20,52.22 L561.70,52.45 L562.20,52.66 L562.70,52.85 L563.20,53.03 L563.70,53.20 L564.20,53.34 L564.70,53.48 L565.20,53.60 L565.70,53.70 L566.20,53.78 L566.70,53.85 L567.20,53.91 L567.70,53.94 L568.20,53.96 L568.70,53.97 L569.20,53.95 L569.70,53.92 L570.20,53.87 L570.70,53.80 L571.20,53.72 L571.70,53.62 L572.20,53.51 L572.70,53.39 L573.20,53.26 L573.70,53.12 L574.20,52.98 L574.70,52.83 L575.20,52.69 L575.70,52.54 L576.20,52.39 L576.70,52.24 L577.20,52.10 L577.70,51.96 L578.20,51.82 L578.70,51.68 L579.20,51.55 L579.70,51.41 L580.20,51.27 L580.70,51.13 L581.20,50.99 L581.70,50.85 L582.20,50.70 L582.70,50.55 L583.20,50.39 L583.70,50.23 L584.20,50.07 L584.70,49.89 L585.20,49.72 L585.70,49.54 L586.20,49.36 L586.70,49.19 L587.20,49.01 L587.70,48.84 L588.20,48.68 L588.70,48.53 L589.20,48.38 L589.70,48.25 L590.20,48.12 L590.70,48.01 L591.20,47.92 L591.70,47.83 L592.20,47.76 L592.70,47.69 L593.20,47.65 L593.70,47.61 L594.20,47.59 L594.70,47.58 L595.20,47.58 L595.70,47.60 L596.20,47.63 L596.70,47.67 L597.20,47.73 L597.70,47.80 L598.20,47.88 L598.70,47.97 L599.20,48.06 L599.70,48.17 L600.20,48.29 L600.70,48.41 L601.20,48.54 L601.70,48.67 L602.20,48.81 L602.70,48.96 L603.20,49.11 L603.70,49.26 L604.20,49.42 L604.70,49.58 L605.20,49.75 L605.70,49.92 L606.20,50.09 L606.70,50.26 L607.20,50.44 L607.70,50.61 L608.20,50.79 L608.70,50.97 L609.20,51.15 L609.70,51.33 L610.20,51.51 L610.70,51.69 L611.20,51.86 L611.70,52.04 L612.20,52.21 L612.70,52.37 L613.20,52.54 L613.70,52.69 L614.20,52.84 L614.70,52.99 L615.20,53.13 L615.70,53.26 L616.20,53.38 L616.70,53.50 L617.20,53.61 L617.70,53.71 L618.20,53.81 L618.70,53.90 L619.20,53.98 L619.70,54.05 L620.20,54.12 L620.70,54.19 L621.20,54.25 L621.70,54.30 L622.20,54.34 L622.70,54.39 L623.20,54.42 L623.70,54.46 L624.20,54.49 L624.70,54.51 L625.20,54.54 L625.70,54.56 L626.20,54.58 L626.70,54.60 L627.20,54.62 L627.70,54.64 L628.20,54.66 L628.70,54.68 L629.20,54.70 L629.70,54.72 L630.20,54.74 L630.70,54.77 L631.20,54.79 L631.70,54.82 L632.20,54.85 L632.70,54.88 L633.20,54.91 L633.70,54.95 L634.20,54.98 L634.70,55.01 L635.20,55.05 L635.70,55.09 L636.20,55.12 L636.70,55.16 L637.20,55.20 L637.70,55.24 L638.20,55.27 L638.70,55.31 L639.20,55.35 L639.70,55.39" fill="none" stroke="#111" stroke-width="0.9"/>
<path d="M486.20,56.10 L486.70,56.10 L487.20,56.10 L487.70,56.10 L488.20,56.10 L488.70,56.10 L489.20,56.10 L489.70,56.10 L490.20,56.10 L490.70,56.10 L491.20,56.10 L491.70,56.10 L492.20,56.10 L492.70,56.10 L493.20,56.10 L493.70,56.10 L494.20,56.10 L494.70,56.10 L495.20,56.10 L495.70,56.10 L496.20,56.10 L496.70,56.10 L497.20,56.10 L497.70,56.10 L498.20,56.10 L498.70,56.10 L499.20,56.10 L499.70,56.10 L500.20,56.10 L500.70,56.10 L501.20,56.10 L501.70,56.10 L502.20,56.10 L502.70,56.10 L503.20,56.10 L503.70,56.10 L504.20,56.10 L504.70,56.10 L505.20,56.10 L505.70,56.10 L506.20,56.10 L506.70,56.10 L507.20,56.10 L507.70,56.10 L508.20,56.10 L508.70,56.10 L509.20,56.10 L509.70,56.10 L510.20,56.10 L510.70,56.10 L511.20,56.10 L511.70,56.10 L512.20,56.10 L512.70,56.10 L513.20,56.10 L513.70,56.10 L514.20,56.10 L514.70,56.10 L515.20,56.10 L515.70,56.10 L516.20,56.10 L516.70,56.10 L517.20,56.10 L517.70,56.10 L518.20,56.10 L518.70,56.10 L519.20,56.10 L519.70,56.10 L520.20,56.10 L520.70,56.10 L521.20,56.10 L521.70,56.10 L522.20,56.10 L522.70,56.10 L523.20,56.10 L523.70,56.10 L524.20,56.10 L524.70,56.10 L525.20,56.10 L525.70,56.10 L526.20,56.10 L526.70,56.10 L527.20,56.10 L527.70,56.10 L528.20,56.10 L528.70,56.10 L529.20,56.10 L529.70,56.10 L530.20,56.10 L530.70,56.01 L531.20,55.78 L531.70,55.55 L532.20,55.32 L532.70,55.07 L533.20,54.82 L533.70,54.55 L534.20,54.27 L534.70,53.98 L535.20,53.66 L535.70,53.33 L536.20,52.97 L536.70,52.60 L537.20,52.19 L537.70,51.76 L538.20,51.31 L538.70,50.82 L539.20,50.29 L539.70,49.74 L540.20,49.14 L540.70,48.51 L541.20,47.84 L541.70,47.13 L542.20,46.38 L542.70,45.57 L543.20,44.72 L543.70,43.82 L544.20,42.86 L544.70,41.83 L545.20,40.72 L545.70,39.55 L546.20,38.29 L546.70,36.98 L547.20,35.65 L547.70,34.34 L548.20,33.09 L548.70,31.93 L549.20,30.91 L549.70,30.03 L550.20,29.30 L550.70,28.69 L551.20,28.19 L551.70,27.77 L552.20,27.42 L552.70,27.13 L553.20,26.86 L553.70,26.57 L554.20,26.24 L554.70,25.83 L555.20,25.29 L555.70,24.60 L556.20,23.73 L556.70,22.75 L557.20,21.74 L557.70,20.76 L558.20,19.89 L558.70,19.22 L559.20,18.75 L559.70,18.45 L560.20,18.28 L560.70,18.21 L561.20,18.20 L561.70,18.24 L562.20,18.35 L562.70,18.59 L563.20,19.00 L563.70,19.59 L564.20,20.35 L564.70,21.20 L565.20,22.08 L565.70,22.91 L566.20,23.63 L566.70,24.22 L567.20,24.70 L567.70,25.13 L568.20,25.57 L568.70,26.06 L569.20,26.66 L569.70,27.41 L570.20,28.31 L570.70,29.32 L571.20,30.41 L571.70,31.56 L572.20,32.73 L572.70,33.88 L573.20,35.00 L573.70,36.05 L574.20,37.04 L574.70,37.97 L575.20,38.85 L575.70,39.69 L576.20,40.49 L576.70,41.26 L577.20,42.01 L577.70,42.75 L578.20,43.47 L578.70,44.19 L579.20,44.89 L579.70,45.58 L580.20,46.25 L580.70,46.91 L581.20,47.55 L581.70,48.18 L582.20,48.78 L582.70,49.36 L583.20,49.92 L583.70,50.46 L584.20,50.97 L584.70,51.45 L585.20,51.91 L585.70,52.35 L586.20,52.75 L586.70,53.13 L587.20,53.47 L587.70,53.78 L588.20,54.07 L588.70,54.33 L589.20,54.56 L589.70,54.77 L590.20,54.97 L590.70,55.14 L591.20,55.31 L591.70,55.46 L592.20,55.60 L592.70,55.74 L593.20,55.88 L593.70,56.02 L594.20,56.10 L594.70,56.10 L595.20,56.10 L595.70,56.10 L596.20,56.10 L596.70,56.10 L597.20,56.10 L597.70,56.10 L598.20,56.10 L598.70,56.10 L599.20,56.10 L599.70,56.10 L600.20,56.10 L600.70,56.10 L601.20,56.10 L601.70,56.10 L602.20,56.10 L602.70,56.10 L603.20,56.10 L603.70,56.10 L604.20,56.10 L604.70,56.10 L605.20,56.10 L605.70,56.10 L606.20,56.10 L606.70,56.10 L607.20,56.10 L607.70,56.10 L608.20,56.10 L608.70,56.10 L609.20,56.10 L609.70,56.10 L610.20,56.10 L610.70,56.10 L611.20,56.10 L611.70,56.10 L612.20,56.10 L612.70,56.10 L613.20,56.10 L613.70,56.10 L614.20,56.10 L614.70,56.10 L615.20,56.10 L615.70,56.10 L616.20,56.10 L616.70,56.10 L617.20,56.10 L617.70,56.10 L618.20,56.10 L618.70,56.10 L619.20,56.10 L619.70,56.10 L620.20,56.10 L620.70,56.10 L621.20,56.10 L621.70,56.10 L622.20,56.10 L622.70,56.10 L623.20,56.10 L623.70,56.10 L624.20,56.10 L624.70,56.10 L625.20,56.10 L625.70,56.10 L626.20,56.10 L626.70,56.10 L627.20,56.10 L627.70,56.10 L628.20,56.10 L628.70,56.10 L629.20,56.10 L629.70,56.10 L630.20,56.10 L630.70,56.10 L631.20,56.10 L631.70,56.10 L632.20,56.10 L632.70,56.10 L633.20,56.10 L633.70,56.10 L634.20,56.10 L634.70,56.10 L635.20,56.10 L635.70,56.10 L636.20,56.10 L636.70,56.10 L637.20,56.10 L637.70,56.10 L638.20,56.10 L638.70,56.10 L639.20,56.10 L639.70,56.10" fill="none" stroke="#111" stroke-width="0.9"/>
<line x1="131.00" y1="66.00" x2="131.00" y2="232.80" stroke="#aaa" stroke-width="1"/>
<line x1="129.50" y1="232.30" x2="299.80" y2="232.30" stroke="#444" stroke-width="1.1"/>
<line x1="129.00" y1="232.30" x2="131.00" y2="232.30" stroke="#555" stroke-width="0.6"/>
<text x="128.40" y="234.40" font-size="6" text-anchor="end" fill="#111" stroke="#111" stroke-width="0.15">0.0</text>
<line x1="129.00" y1="190.80" x2="131.00" y2="190.80" stroke="#555" stroke-width="0.6"/>
<text x="128.40" y="192.90" font-size="6" text-anchor="end" fill="#111" stroke="#111" stroke-width="0.15">2.5</text>
<line x1="129.00" y1="149.30" x2="131.00" y2="149.30" stroke="#555" stroke-width="0.6"/>
<text x="128.40" y="151.40" font-size="6" text-anchor="end" fill="#111" stroke="#111" stroke-width="0.15">5.0</text>
<line x1="129.00" y1="107.80" x2="131.00" y2="107.80" stroke="#555" stroke-width="0.6"/>
<text x="128.40" y="109.90" font-size="6" text-anchor="end" fill="#111" stroke="#111" stroke-width="0.15">7.5</text>
<line x1="129.00" y1="66.30" x2="131.00" y2="66.30" stroke="#555" stroke-width="0.6"/>
<text x="128.40" y="68.40" font-size="6" text-anchor="end" fill="#111" stroke="#111" stroke-width="0.15"><tspan fill="#d0d0d0" stroke="none">1</tspan>0.0</text>
<line x1="138.32" y1="232.30" x2="138.32" y2="234.30" stroke="#555" stroke-width="0.6"/>
<text x="138.32" y="240.30" font-size="6.3" text-anchor="middle" fill="#111" stroke="#111" stroke-width="0.15">-6</text>
<line x1="176.81" y1="232.30" x2="176.81" y2="234.30" stroke="#555" stroke-width="0.6"/>
<text x="176.81" y="240.30" font-size="6.3" text-anchor="middle" fill="#111" stroke="#111" stroke-width="0.15">-3</text>
<line x1="215.30" y1="232.30" x2="215.30" y2="234.30" stroke="#555" stroke-width="0.6"/>
<text x="215.30" y="240.30" font-size="6.3" text-anchor="middle" fill="#111" stroke="#111" stroke-width="0.15">0</text>
<line x1="253.79" y1="232.30" x2="253.79" y2="234.30" stroke="#555" stroke-width="0.6"/>
<text x="253.79" y="240.30" font-size="6.3" text-anchor="middle" fill="#111" stroke="#111" stroke-width="0.15">3</text>
<line x1="292.28" y1="232.30" x2="292.28" y2="234.30" stroke="#555" stroke-width="0.6"/>
<text x="292.28" y="240.30" font-size="6.3" text-anchor="middle" fill="#111" stroke="#111" stroke-width="0.15">6</text>
<text x="145.20" y="81.00" font-size="10.2" text-anchor="start" fill="#000" >Down: 251</text>
<text x="223.40" y="81.00" font-size="10.2" text-anchor="start" fill="#000" >Up: 181</text>
<text x="221.00" y="258.40" font-size="11.6" text-anchor="middle">Circ FC (Log<tspan font-size="9" dy="2.6">2</tspan><tspan dy="-2.6">)</tspan></text>
<text transform="translate(107.70,150.00) rotate(-90)" font-size="11.6" text-anchor="middle">p value (-Log<tspan font-size="8.5" dy="2.2">10</tspan><tspan dy="-2.2">)</tspan></text>
<circle cx="141.3" cy="281.0" r="7" fill="#7f7f7f" stroke="#333" stroke-width="0.6"/>
<text x="153.60" y="283.40" font-size="11.6" text-anchor="start" fill="#000" >Unaltered</text>
<circle cx="230.1" cy="281.0" r="7" fill="#ff0000" stroke="#333" stroke-width="0.6"/>
<text x="248.90" y="283.40" font-size="11.6" text-anchor="start" fill="#000" >Altered</text>
<line x1="478.40" y1="64.00" x2="478.40" y2="231.50" stroke="#555" stroke-width="1"/>
<line x1="476.90" y1="231.00" x2="647.70" y2="231.00" stroke="#444" stroke-width="1.1"/>
<line x1="476.40" y1="231.00" x2="478.40" y2="231.00" stroke="#555" stroke-width="0.6"/>
<text x="475.80" y="233.10" font-size="6" text-anchor="end" fill="#111" stroke="#111" stroke-width="0.15">0.0</text>
<line x1="476.40" y1="189.25" x2="478.40" y2="189.25" stroke="#555" stroke-width="0.6"/>
<text x="475.80" y="191.35" font-size="6" text-anchor="end" fill="#111" stroke="#111" stroke-width="0.15">2.5</text>
<line x1="476.40" y1="147.50" x2="478.40" y2="147.50" stroke="#555" stroke-width="0.6"/>
<text x="475.80" y="149.60" font-size="6" text-anchor="end" fill="#111" stroke="#111" stroke-width="0.15">5.0</text>
<line x1="476.40" y1="105.75" x2="478.40" y2="105.75" stroke="#555" stroke-width="0.6"/>
<text x="475.80" y="107.85" font-size="6" text-anchor="end" fill="#111" stroke="#111" stroke-width="0.15">7.5</text>
<line x1="476.40" y1="64.00" x2="478.40" y2="64.00" stroke="#555" stroke-width="0.6"/>
<text x="475.80" y="66.10" font-size="6" text-anchor="end" fill="#111" stroke="#111" stroke-width="0.15">0.0</text>
<line x1="485.90" y1="231.00" x2="485.90" y2="233.00" stroke="#555" stroke-width="0.6"/>
<text x="485.90" y="239.30" font-size="6.3" text-anchor="middle" fill="#111" stroke="#111" stroke-width="0.15">-6</text>
<line x1="524.45" y1="231.00" x2="524.45" y2="233.00" stroke="#555" stroke-width="0.6"/>
<text x="524.45" y="239.30" font-size="6.3" text-anchor="middle" fill="#111" stroke="#111" stroke-width="0.15">-3</text>
<line x1="563.00" y1="231.00" x2="563.00" y2="233.00" stroke="#555" stroke-width="0.6"/>
<text x="563.00" y="239.30" font-size="6.3" text-anchor="middle" fill="#111" stroke="#111" stroke-width="0.15">0</text>
<line x1="601.55" y1="231.00" x2="601.55" y2="233.00" stroke="#555" stroke-width="0.6"/>
<text x="601.55" y="239.30" font-size="6.3" text-anchor="middle" fill="#111" stroke="#111" stroke-width="0.15">3</text>
<line x1="640.10" y1="231.00" x2="640.10" y2="233.00" stroke="#555" stroke-width="0.6"/>
<text x="640.10" y="239.30" font-size="6.3" text-anchor="middle" fill="#111" stroke="#111" stroke-width="0.15">6</text>
<text x="493.90" y="80.30" font-size="10.2" text-anchor="start" fill="#000" >Down: 237</text>
<text x="584.50" y="80.30" font-size="10.2" text-anchor="start" fill="#000" >Up: 107</text>
<text x="566.30" y="258.20" font-size="11.6" text-anchor="middle">Circ FC (Log<tspan font-size="9" dy="2.6">2</tspan><tspan dy="-2.6">)</tspan></text>
<text transform="translate(455.20,149.70) rotate(-90)" font-size="11.6" text-anchor="middle">p value (-Log<tspan font-size="8.5" dy="2.2">10</tspan><tspan dy="-2.2">)</tspan></text>
<circle cx="494.4" cy="281.8" r="7" fill="#7f7f7f" stroke="#333" stroke-width="0.6"/>
<text x="507.20" y="284.20" font-size="11.6" text-anchor="start" fill="#000" >Unaltered</text>
<circle cx="582.9" cy="281.8" r="7" fill="#ff0000" stroke="#333" stroke-width="0.6"/>
<text x="596.40" y="284.20" font-size="11.6" text-anchor="start" fill="#000" >Altered</text>
<path d="M186.00,210.60 L210.80,210.60 L211.70,215.00 L212.70,220.30 L213.70,225.00 L215.00,230.00 L215.40,232.20 L214.50,232.20 L209.60,230.00 L199.90,225.00 L196.30,220.30 L191.80,215.00 L187.00,211.80 Z" fill="#808080"/>
<path d="M221.20,211.00 L240.30,210.60 L238.80,215.00 L234.20,220.30 L229.00,225.00 L221.40,230.00 L216.00,232.20 L215.50,232.00 L215.80,230.00 L217.30,225.00 L219.30,220.30 L221.40,215.00 Z" fill="#808080"/>
<path d="M534.60,209.50 L557.60,209.50 L559.20,213.20 L560.20,218.30 L561.70,223.40 L563.00,228.50 L563.40,231.00 L562.80,231.00 L555.60,228.50 L547.90,223.40 L542.30,218.30 L537.70,213.20 Z" fill="#808080"/>
<path d="M576.50,211.50 L578.10,209.50 L588.30,209.50 L587.30,213.20 L583.20,218.30 L578.10,223.40 L570.90,228.50 L563.80,231.00 L563.40,230.60 L563.80,228.50 L565.80,223.40 L568.40,218.30 L571.50,214.50 L574.00,214.80 Z" fill="#808080"/>
<path d="M571.75,210.45h1.5v1.5h-1.5zM573.45,211.85h1.5v1.5h-1.5zM571.05,212.65h1.5v1.5h-1.5zM574.75,210.05h1.5v1.5h-1.5zM184.33,210.11h1.5v1.5h-1.5zM201.62,209.71h1.5v1.5h-1.5zM196.90,210.48h1.5v1.5h-1.5zM199.97,209.88h1.5v1.5h-1.5zM189.32,209.59h1.5v1.5h-1.5zM200.59,209.87h1.5v1.5h-1.5zM206.98,210.19h1.5v1.5h-1.5zM210.02,209.55h1.5v1.5h-1.5zM208.07,209.67h1.5v1.5h-1.5zM191.33,209.57h1.5v1.5h-1.5zM209.68,209.59h1.5v1.5h-1.5zM194.41,210.09h1.5v1.5h-1.5zM209.81,210.78h1.5v1.5h-1.5zM211.59,215.37h1.5v1.5h-1.5zM210.18,216.02h1.5v1.5h-1.5zM211.16,214.54h1.5v1.5h-1.5zM212.77,223.00h1.5v1.5h-1.5zM212.12,223.74h1.5v1.5h-1.5zM212.38,219.68h1.5v1.5h-1.5zM212.22,225.89h1.5v1.5h-1.5zM211.18,229.83h1.5v1.5h-1.5zM212.78,231.83h1.5v1.5h-1.5zM208.40,230.39h1.5v1.5h-1.5zM203.33,226.93h1.5v1.5h-1.5zM207.48,228.50h1.5v1.5h-1.5zM202.58,225.80h1.5v1.5h-1.5zM209.24,228.96h1.5v1.5h-1.5zM204.99,227.89h1.5v1.5h-1.5zM200.13,225.26h1.5v1.5h-1.5zM199.11,223.92h1.5v1.5h-1.5zM197.57,221.71h1.5v1.5h-1.5zM197.45,220.59h1.5v1.5h-1.5zM192.59,215.71h1.5v1.5h-1.5zM195.21,218.41h1.5v1.5h-1.5zM194.88,217.14h1.5v1.5h-1.5zM190.38,214.54h1.5v1.5h-1.5zM186.97,211.97h1.5v1.5h-1.5zM189.52,213.35h1.5v1.5h-1.5zM187.26,210.91h1.5v1.5h-1.5zM229.83,210.23h1.5v1.5h-1.5zM227.23,209.72h1.5v1.5h-1.5zM227.02,209.89h1.5v1.5h-1.5zM232.42,210.06h1.5v1.5h-1.5zM224.87,209.66h1.5v1.5h-1.5zM237.52,214.27h1.5v1.5h-1.5zM237.52,212.41h1.5v1.5h-1.5zM232.80,219.25h1.5v1.5h-1.5zM238.14,214.12h1.5v1.5h-1.5zM235.45,216.04h1.5v1.5h-1.5zM235.27,218.89h1.5v1.5h-1.5zM230.06,221.83h1.5v1.5h-1.5zM230.36,221.78h1.5v1.5h-1.5zM230.11,222.99h1.5v1.5h-1.5zM230.87,221.34h1.5v1.5h-1.5zM222.90,227.57h1.5v1.5h-1.5zM224.70,226.77h1.5v1.5h-1.5zM227.05,225.21h1.5v1.5h-1.5zM227.54,225.34h1.5v1.5h-1.5zM224.65,225.72h1.5v1.5h-1.5zM219.39,229.76h1.5v1.5h-1.5zM218.33,230.65h1.5v1.5h-1.5zM220.36,229.08h1.5v1.5h-1.5zM214.52,231.03h1.5v1.5h-1.5zM216.79,223.98h1.5v1.5h-1.5zM219.40,219.61h1.5v1.5h-1.5zM217.28,222.59h1.5v1.5h-1.5zM217.89,218.70h1.5v1.5h-1.5zM217.83,218.04h1.5v1.5h-1.5zM218.88,217.71h1.5v1.5h-1.5zM221.27,213.00h1.5v1.5h-1.5zM221.26,210.06h1.5v1.5h-1.5zM540.64,208.68h1.5v1.5h-1.5zM542.56,210.06h1.5v1.5h-1.5zM544.98,209.30h1.5v1.5h-1.5zM536.11,208.38h1.5v1.5h-1.5zM540.85,207.83h1.5v1.5h-1.5zM533.61,208.67h1.5v1.5h-1.5zM555.47,208.38h1.5v1.5h-1.5zM541.19,209.99h1.5v1.5h-1.5zM539.98,208.39h1.5v1.5h-1.5zM547.76,208.25h1.5v1.5h-1.5zM536.61,208.33h1.5v1.5h-1.5zM545.82,209.11h1.5v1.5h-1.5zM545.39,208.86h1.5v1.5h-1.5zM550.82,208.68h1.5v1.5h-1.5zM555.75,209.99h1.5v1.5h-1.5zM558.16,212.01h1.5v1.5h-1.5zM558.40,216.71h1.5v1.5h-1.5zM558.62,215.64h1.5v1.5h-1.5zM558.84,217.43h1.5v1.5h-1.5zM560.92,222.29h1.5v1.5h-1.5zM559.97,221.26h1.5v1.5h-1.5zM560.79,224.91h1.5v1.5h-1.5zM563.03,229.93h1.5v1.5h-1.5zM556.42,227.49h1.5v1.5h-1.5zM561.53,228.82h1.5v1.5h-1.5zM554.80,227.60h1.5v1.5h-1.5zM556.18,228.85h1.5v1.5h-1.5zM547.43,222.63h1.5v1.5h-1.5zM552.94,226.12h1.5v1.5h-1.5zM549.79,224.79h1.5v1.5h-1.5zM550.38,224.64h1.5v1.5h-1.5zM552.15,225.89h1.5v1.5h-1.5zM543.86,218.69h1.5v1.5h-1.5zM545.84,222.15h1.5v1.5h-1.5zM542.14,219.67h1.5v1.5h-1.5zM546.07,221.01h1.5v1.5h-1.5zM540.29,216.34h1.5v1.5h-1.5zM536.44,212.67h1.5v1.5h-1.5zM539.83,216.09h1.5v1.5h-1.5zM537.72,213.69h1.5v1.5h-1.5zM535.43,212.17h1.5v1.5h-1.5zM536.16,211.08h1.5v1.5h-1.5zM536.53,211.94h1.5v1.5h-1.5zM575.52,210.29h1.5v1.5h-1.5zM585.68,208.80h1.5v1.5h-1.5zM586.58,208.90h1.5v1.5h-1.5zM578.90,209.75h1.5v1.5h-1.5zM584.36,208.99h1.5v1.5h-1.5zM586.61,207.95h1.5v1.5h-1.5zM578.31,208.42h1.5v1.5h-1.5zM586.83,210.22h1.5v1.5h-1.5zM586.92,210.22h1.5v1.5h-1.5zM582.39,215.96h1.5v1.5h-1.5zM585.28,214.18h1.5v1.5h-1.5zM583.09,215.11h1.5v1.5h-1.5zM585.08,214.54h1.5v1.5h-1.5zM582.84,218.84h1.5v1.5h-1.5zM580.00,219.99h1.5v1.5h-1.5zM580.80,219.50h1.5v1.5h-1.5zM579.95,219.79h1.5v1.5h-1.5zM576.60,223.85h1.5v1.5h-1.5zM574.87,224.42h1.5v1.5h-1.5zM575.45,224.24h1.5v1.5h-1.5zM575.36,224.69h1.5v1.5h-1.5zM577.72,222.59h1.5v1.5h-1.5zM563.09,229.40h1.5v1.5h-1.5zM567.13,228.85h1.5v1.5h-1.5zM565.14,230.15h1.5v1.5h-1.5zM565.22,229.86h1.5v1.5h-1.5zM564.51,225.63h1.5v1.5h-1.5zM566.20,222.94h1.5v1.5h-1.5zM569.77,216.17h1.5v1.5h-1.5zM570.07,213.73h1.5v1.5h-1.5zM569.29,217.66h1.5v1.5h-1.5zM572.19,213.83h1.5v1.5h-1.5zM574.53,213.40h1.5v1.5h-1.5zM573.38,214.36h1.5v1.5h-1.5z" fill="#808080"/>
<path d="M239.90,99.10a1,1 0 1,0 2,0a1,1 0 1,0 -2,0zM202.50,111.70a1,1 0 1,0 2,0a1,1 0 1,0 -2,0zM193.20,114.80a1,1 0 1,0 2,0a1,1 0 1,0 -2,0zM225.20,117.80a1,1 0 1,0 2,0a1,1 0 1,0 -2,0zM179.60,126.90a1,1 0 1,0 2,0a1,1 0 1,0 -2,0zM287.80,132.50a1,1 0 1,0 2,0a1,1 0 1,0 -2,0zM190.40,154.70a1,1 0 1,0 2,0a1,1 0 1,0 -2,0zM189.00,157.70a1,1 0 1,0 2,0a1,1 0 1,0 -2,0zM186.90,161.90a1,1 0 1,0 2,0a1,1 0 1,0 -2,0zM188.00,162.40a1,1 0 1,0 2,0a1,1 0 1,0 -2,0zM190.40,161.50a1,1 0 1,0 2,0a1,1 0 1,0 -2,0zM239.00,166.80a1,1 0 1,0 2,0a1,1 0 1,0 -2,0zM149.30,167.70a1,1 0 1,0 2,0a1,1 0 1,0 -2,0zM151.00,169.70a1,1 0 1,0 2,0a1,1 0 1,0 -2,0zM153.00,174.50a1,1 0 1,0 2,0a1,1 0 1,0 -2,0zM154.70,179.20a1,1 0 1,0 2,0a1,1 0 1,0 -2,0zM156.80,184.00a1,1 0 1,0 2,0a1,1 0 1,0 -2,0zM159.10,188.80a1,1 0 1,0 2,0a1,1 0 1,0 -2,0zM161.90,193.70a1,1 0 1,0 2,0a1,1 0 1,0 -2,0zM174.30,166.30a1,1 0 1,0 2,0a1,1 0 1,0 -2,0zM168.00,170.50a1,1 0 1,0 2,0a1,1 0 1,0 -2,0zM168.20,174.50a1,1 0 1,0 2,0a1,1 0 1,0 -2,0zM170.80,177.60a1,1 0 1,0 2,0a1,1 0 1,0 -2,0zM168.70,179.20a1,1 0 1,0 2,0a1,1 0 1,0 -2,0zM172.10,182.20a1,1 0 1,0 2,0a1,1 0 1,0 -2,0zM173.60,186.90a1,1 0 1,0 2,0a1,1 0 1,0 -2,0zM175.20,192.70a1,1 0 1,0 2,0a1,1 0 1,0 -2,0zM176.70,195.30a1,1 0 1,0 2,0a1,1 0 1,0 -2,0zM178.50,198.60a1,1 0 1,0 2,0a1,1 0 1,0 -2,0zM180.60,202.90a1,1 0 1,0 2,0a1,1 0 1,0 -2,0zM182.80,207.20a1,1 0 1,0 2,0a1,1 0 1,0 -2,0zM186.90,162.20a1,1 0 1,0 2,0a1,1 0 1,0 -2,0zM187.70,162.60a1,1 0 1,0 2,0a1,1 0 1,0 -2,0zM190.50,161.70a1,1 0 1,0 2,0a1,1 0 1,0 -2,0zM192.00,168.70a1,1 0 1,0 2,0a1,1 0 1,0 -2,0zM190.80,170.50a1,1 0 1,0 2,0a1,1 0 1,0 -2,0zM186.70,170.40a1,1 0 1,0 2,0a1,1 0 1,0 -2,0zM185.90,172.80a1,1 0 1,0 2,0a1,1 0 1,0 -2,0zM184.90,173.60a1,1 0 1,0 2,0a1,1 0 1,0 -2,0zM187.40,176.70a1,1 0 1,0 2,0a1,1 0 1,0 -2,0zM197.10,170.40a1,1 0 1,0 2,0a1,1 0 1,0 -2,0zM200.00,174.10a1,1 0 1,0 2,0a1,1 0 1,0 -2,0zM207.60,174.30a1,1 0 1,0 2,0a1,1 0 1,0 -2,0zM192.80,179.90a1,1 0 1,0 2,0a1,1 0 1,0 -2,0zM192.00,181.30a1,1 0 1,0 2,0a1,1 0 1,0 -2,0zM190.80,182.70a1,1 0 1,0 2,0a1,1 0 1,0 -2,0zM201.90,180.70a1,1 0 1,0 2,0a1,1 0 1,0 -2,0zM179.50,185.50a1,1 0 1,0 2,0a1,1 0 1,0 -2,0zM182.80,186.40a1,1 0 1,0 2,0a1,1 0 1,0 -2,0zM179.80,188.60a1,1 0 1,0 2,0a1,1 0 1,0 -2,0zM180.00,190.70a1,1 0 1,0 2,0a1,1 0 1,0 -2,0zM193.00,186.60a1,1 0 1,0 2,0a1,1 0 1,0 -2,0zM197.10,186.40a1,1 0 1,0 2,0a1,1 0 1,0 -2,0zM200.00,186.80a1,1 0 1,0 2,0a1,1 0 1,0 -2,0zM201.20,184.50a1,1 0 1,0 2,0a1,1 0 1,0 -2,0zM204.30,185.30a1,1 0 1,0 2,0a1,1 0 1,0 -2,0zM202.80,187.60a1,1 0 1,0 2,0a1,1 0 1,0 -2,0zM191.80,190.70a1,1 0 1,0 2,0a1,1 0 1,0 -2,0zM191.50,191.90a1,1 0 1,0 2,0a1,1 0 1,0 -2,0zM197.30,191.70a1,1 0 1,0 2,0a1,1 0 1,0 -2,0zM203.80,192.50a1,1 0 1,0 2,0a1,1 0 1,0 -2,0zM201.00,192.90a1,1 0 1,0 2,0a1,1 0 1,0 -2,0zM181.80,193.70a1,1 0 1,0 2,0a1,1 0 1,0 -2,0zM185.90,193.50a1,1 0 1,0 2,0a1,1 0 1,0 -2,0zM188.50,195.30a1,1 0 1,0 2,0a1,1 0 1,0 -2,0zM191.50,196.30a1,1 0 1,0 2,0a1,1 0 1,0 -2,0zM196.60,197.30a1,1 0 1,0 2,0a1,1 0 1,0 -2,0zM201.70,196.00a1,1 0 1,0 2,0a1,1 0 1,0 -2,0zM203.80,196.30a1,1 0 1,0 2,0a1,1 0 1,0 -2,0zM206.30,197.00a1,1 0 1,0 2,0a1,1 0 1,0 -2,0zM207.50,202.00a1,1 0 1,0 2,0a1,1 0 1,0 -2,0zM209.00,205.00a1,1 0 1,0 2,0a1,1 0 1,0 -2,0zM225.20,171.90a1,1 0 1,0 2,0a1,1 0 1,0 -2,0zM244.00,173.70a1,1 0 1,0 2,0a1,1 0 1,0 -2,0zM251.80,176.30a1,1 0 1,0 2,0a1,1 0 1,0 -2,0zM235.00,179.00a1,1 0 1,0 2,0a1,1 0 1,0 -2,0zM240.60,178.70a1,1 0 1,0 2,0a1,1 0 1,0 -2,0zM241.10,181.40a1,1 0 1,0 2,0a1,1 0 1,0 -2,0zM244.10,181.30a1,1 0 1,0 2,0a1,1 0 1,0 -2,0zM257.40,179.30a1,1 0 1,0 2,0a1,1 0 1,0 -2,0zM227.30,182.40a1,1 0 1,0 2,0a1,1 0 1,0 -2,0zM249.60,183.90a1,1 0 1,0 2,0a1,1 0 1,0 -2,0zM239.00,185.70a1,1 0 1,0 2,0a1,1 0 1,0 -2,0zM245.50,186.90a1,1 0 1,0 2,0a1,1 0 1,0 -2,0zM253.30,186.50a1,1 0 1,0 2,0a1,1 0 1,0 -2,0zM275.50,175.40a1,1 0 1,0 2,0a1,1 0 1,0 -2,0zM275.30,176.30a1,1 0 1,0 2,0a1,1 0 1,0 -2,0zM273.80,180.30a1,1 0 1,0 2,0a1,1 0 1,0 -2,0zM273.50,181.10a1,1 0 1,0 2,0a1,1 0 1,0 -2,0zM271.70,184.80a1,1 0 1,0 2,0a1,1 0 1,0 -2,0zM269.20,189.70a1,1 0 1,0 2,0a1,1 0 1,0 -2,0zM266.60,194.30a1,1 0 1,0 2,0a1,1 0 1,0 -2,0zM235.00,189.70a1,1 0 1,0 2,0a1,1 0 1,0 -2,0zM237.70,190.80a1,1 0 1,0 2,0a1,1 0 1,0 -2,0zM240.40,189.20a1,1 0 1,0 2,0a1,1 0 1,0 -2,0zM242.10,191.80a1,1 0 1,0 2,0a1,1 0 1,0 -2,0zM244.50,191.00a1,1 0 1,0 2,0a1,1 0 1,0 -2,0zM232.90,193.30a1,1 0 1,0 2,0a1,1 0 1,0 -2,0zM236.70,193.60a1,1 0 1,0 2,0a1,1 0 1,0 -2,0zM247.20,193.60a1,1 0 1,0 2,0a1,1 0 1,0 -2,0zM253.30,193.00a1,1 0 1,0 2,0a1,1 0 1,0 -2,0zM252.80,193.80a1,1 0 1,0 2,0a1,1 0 1,0 -2,0zM230.90,196.90a1,1 0 1,0 2,0a1,1 0 1,0 -2,0zM234.40,196.40a1,1 0 1,0 2,0a1,1 0 1,0 -2,0zM238.70,195.90a1,1 0 1,0 2,0a1,1 0 1,0 -2,0zM241.10,195.40a1,1 0 1,0 2,0a1,1 0 1,0 -2,0zM242.60,195.90a1,1 0 1,0 2,0a1,1 0 1,0 -2,0zM245.70,196.70a1,1 0 1,0 2,0a1,1 0 1,0 -2,0zM251.60,195.90a1,1 0 1,0 2,0a1,1 0 1,0 -2,0zM233.90,199.10a1,1 0 1,0 2,0a1,1 0 1,0 -2,0zM239.50,198.90a1,1 0 1,0 2,0a1,1 0 1,0 -2,0zM244.70,199.40a1,1 0 1,0 2,0a1,1 0 1,0 -2,0zM249.30,199.40a1,1 0 1,0 2,0a1,1 0 1,0 -2,0zM227.30,201.50a1,1 0 1,0 2,0a1,1 0 1,0 -2,0zM228.80,202.00a1,1 0 1,0 2,0a1,1 0 1,0 -2,0zM239.00,201.00a1,1 0 1,0 2,0a1,1 0 1,0 -2,0zM242.10,202.00a1,1 0 1,0 2,0a1,1 0 1,0 -2,0zM247.70,203.80a1,1 0 1,0 2,0a1,1 0 1,0 -2,0zM245.00,207.80a1,1 0 1,0 2,0a1,1 0 1,0 -2,0zM533.90,97.90a1,1 0 1,0 2,0a1,1 0 1,0 -2,0zM544.20,100.70a1,1 0 1,0 2,0a1,1 0 1,0 -2,0zM531.60,124.30a1,1 0 1,0 2,0a1,1 0 1,0 -2,0zM576.60,126.90a1,1 0 1,0 2,0a1,1 0 1,0 -2,0zM587.40,140.50a1,1 0 1,0 2,0a1,1 0 1,0 -2,0zM547.90,142.30a1,1 0 1,0 2,0a1,1 0 1,0 -2,0zM543.90,145.60a1,1 0 1,0 2,0a1,1 0 1,0 -2,0zM543.20,148.60a1,1 0 1,0 2,0a1,1 0 1,0 -2,0zM633.20,145.60a1,1 0 1,0 2,0a1,1 0 1,0 -2,0zM632.00,147.90a1,1 0 1,0 2,0a1,1 0 1,0 -2,0zM493.50,153.30a1,1 0 1,0 2,0a1,1 0 1,0 -2,0zM492.30,158.90a1,1 0 1,0 2,0a1,1 0 1,0 -2,0zM494.60,159.60a1,1 0 1,0 2,0a1,1 0 1,0 -2,0zM545.60,160.10a1,1 0 1,0 2,0a1,1 0 1,0 -2,0zM497.20,167.10a1,1 0 1,0 2,0a1,1 0 1,0 -2,0zM542.80,166.60a1,1 0 1,0 2,0a1,1 0 1,0 -2,0zM626.60,162.90a1,1 0 1,0 2,0a1,1 0 1,0 -2,0zM494.50,160.30a1,1 0 1,0 2,0a1,1 0 1,0 -2,0zM497.20,167.40a1,1 0 1,0 2,0a1,1 0 1,0 -2,0zM498.90,170.70a1,1 0 1,0 2,0a1,1 0 1,0 -2,0zM500.80,174.50a1,1 0 1,0 2,0a1,1 0 1,0 -2,0zM502.70,178.90a1,1 0 1,0 2,0a1,1 0 1,0 -2,0zM504.90,183.90a1,1 0 1,0 2,0a1,1 0 1,0 -2,0zM507.10,188.50a1,1 0 1,0 2,0a1,1 0 1,0 -2,0zM509.80,193.20a1,1 0 1,0 2,0a1,1 0 1,0 -2,0zM545.70,160.30a1,1 0 1,0 2,0a1,1 0 1,0 -2,0zM543.00,166.80a1,1 0 1,0 2,0a1,1 0 1,0 -2,0zM524.40,174.50a1,1 0 1,0 2,0a1,1 0 1,0 -2,0zM517.50,178.60a1,1 0 1,0 2,0a1,1 0 1,0 -2,0zM530.40,177.50a1,1 0 1,0 2,0a1,1 0 1,0 -2,0zM535.50,175.50a1,1 0 1,0 2,0a1,1 0 1,0 -2,0zM537.70,178.40a1,1 0 1,0 2,0a1,1 0 1,0 -2,0zM545.90,177.30a1,1 0 1,0 2,0a1,1 0 1,0 -2,0zM548.70,178.80a1,1 0 1,0 2,0a1,1 0 1,0 -2,0zM532.00,181.00a1,1 0 1,0 2,0a1,1 0 1,0 -2,0zM546.80,182.10a1,1 0 1,0 2,0a1,1 0 1,0 -2,0zM552.30,183.00a1,1 0 1,0 2,0a1,1 0 1,0 -2,0zM552.30,185.00a1,1 0 1,0 2,0a1,1 0 1,0 -2,0zM526.80,184.30a1,1 0 1,0 2,0a1,1 0 1,0 -2,0zM529.00,185.00a1,1 0 1,0 2,0a1,1 0 1,0 -2,0zM533.90,183.20a1,1 0 1,0 2,0a1,1 0 1,0 -2,0zM532.80,185.40a1,1 0 1,0 2,0a1,1 0 1,0 -2,0zM540.50,185.00a1,1 0 1,0 2,0a1,1 0 1,0 -2,0zM541.30,185.20a1,1 0 1,0 2,0a1,1 0 1,0 -2,0zM518.60,185.70a1,1 0 1,0 2,0a1,1 0 1,0 -2,0zM521.60,186.10a1,1 0 1,0 2,0a1,1 0 1,0 -2,0zM520.20,189.60a1,1 0 1,0 2,0a1,1 0 1,0 -2,0zM526.80,189.60a1,1 0 1,0 2,0a1,1 0 1,0 -2,0zM532.00,188.70a1,1 0 1,0 2,0a1,1 0 1,0 -2,0zM537.00,189.60a1,1 0 1,0 2,0a1,1 0 1,0 -2,0zM538.80,187.90a1,1 0 1,0 2,0a1,1 0 1,0 -2,0zM543.00,188.50a1,1 0 1,0 2,0a1,1 0 1,0 -2,0zM546.50,189.80a1,1 0 1,0 2,0a1,1 0 1,0 -2,0zM549.00,186.30a1,1 0 1,0 2,0a1,1 0 1,0 -2,0zM550.10,188.20a1,1 0 1,0 2,0a1,1 0 1,0 -2,0zM539.90,191.80a1,1 0 1,0 2,0a1,1 0 1,0 -2,0zM522.90,194.00a1,1 0 1,0 2,0a1,1 0 1,0 -2,0zM524.90,194.80a1,1 0 1,0 2,0a1,1 0 1,0 -2,0zM545.90,192.80a1,1 0 1,0 2,0a1,1 0 1,0 -2,0zM548.10,193.90a1,1 0 1,0 2,0a1,1 0 1,0 -2,0zM549.80,195.60a1,1 0 1,0 2,0a1,1 0 1,0 -2,0zM527.10,198.90a1,1 0 1,0 2,0a1,1 0 1,0 -2,0zM529.00,202.70a1,1 0 1,0 2,0a1,1 0 1,0 -2,0zM531.20,206.90a1,1 0 1,0 2,0a1,1 0 1,0 -2,0zM627.00,163.00a1,1 0 1,0 2,0a1,1 0 1,0 -2,0zM623.70,173.40a1,1 0 1,0 2,0a1,1 0 1,0 -2,0zM622.00,177.80a1,1 0 1,0 2,0a1,1 0 1,0 -2,0zM621.80,178.90a1,1 0 1,0 2,0a1,1 0 1,0 -2,0zM619.80,182.90a1,1 0 1,0 2,0a1,1 0 1,0 -2,0zM617.40,187.60a1,1 0 1,0 2,0a1,1 0 1,0 -2,0zM614.70,192.60a1,1 0 1,0 2,0a1,1 0 1,0 -2,0zM602.30,178.80a1,1 0 1,0 2,0a1,1 0 1,0 -2,0zM605.80,181.60a1,1 0 1,0 2,0a1,1 0 1,0 -2,0zM588.60,184.00a1,1 0 1,0 2,0a1,1 0 1,0 -2,0zM592.50,187.10a1,1 0 1,0 2,0a1,1 0 1,0 -2,0zM591.90,186.80a1,1 0 1,0 2,0a1,1 0 1,0 -2,0zM598.50,183.70a1,1 0 1,0 2,0a1,1 0 1,0 -2,0zM599.00,184.60a1,1 0 1,0 2,0a1,1 0 1,0 -2,0zM596.80,186.20a1,1 0 1,0 2,0a1,1 0 1,0 -2,0zM602.90,185.10a1,1 0 1,0 2,0a1,1 0 1,0 -2,0zM602.10,186.20a1,1 0 1,0 2,0a1,1 0 1,0 -2,0zM595.80,188.90a1,1 0 1,0 2,0a1,1 0 1,0 -2,0zM587.90,190.00a1,1 0 1,0 2,0a1,1 0 1,0 -2,0zM601.40,189.80a1,1 0 1,0 2,0a1,1 0 1,0 -2,0zM577.10,191.70a1,1 0 1,0 2,0a1,1 0 1,0 -2,0zM595.80,193.10a1,1 0 1,0 2,0a1,1 0 1,0 -2,0zM595.20,193.90a1,1 0 1,0 2,0a1,1 0 1,0 -2,0zM600.10,193.10a1,1 0 1,0 2,0a1,1 0 1,0 -2,0zM599.90,194.60a1,1 0 1,0 2,0a1,1 0 1,0 -2,0zM589.20,194.40a1,1 0 1,0 2,0a1,1 0 1,0 -2,0zM591.90,195.00a1,1 0 1,0 2,0a1,1 0 1,0 -2,0zM593.30,196.80a1,1 0 1,0 2,0a1,1 0 1,0 -2,0zM597.90,197.50a1,1 0 1,0 2,0a1,1 0 1,0 -2,0zM578.80,197.00a1,1 0 1,0 2,0a1,1 0 1,0 -2,0zM581.30,196.10a1,1 0 1,0 2,0a1,1 0 1,0 -2,0zM584.60,196.60a1,1 0 1,0 2,0a1,1 0 1,0 -2,0zM590.80,199.30a1,1 0 1,0 2,0a1,1 0 1,0 -2,0zM592.50,199.80a1,1 0 1,0 2,0a1,1 0 1,0 -2,0zM594.10,199.30a1,1 0 1,0 2,0a1,1 0 1,0 -2,0zM581.50,199.30a1,1 0 1,0 2,0a1,1 0 1,0 -2,0zM577.70,202.10a1,1 0 1,0 2,0a1,1 0 1,0 -2,0zM575.50,203.40a1,1 0 1,0 2,0a1,1 0 1,0 -2,0zM571.90,204.10a1,1 0 1,0 2,0a1,1 0 1,0 -2,0zM595.80,201.90a1,1 0 1,0 2,0a1,1 0 1,0 -2,0zM593.30,205.60a1,1 0 1,0 2,0a1,1 0 1,0 -2,0zM187.14,203.96a1,1 0 1,0 2,0a1,1 0 1,0 -2,0zM198.12,205.07a1,1 0 1,0 2,0a1,1 0 1,0 -2,0zM180.40,207.97a1,1 0 1,0 2,0a1,1 0 1,0 -2,0zM187.03,210.14a1,1 0 1,0 2,0a1,1 0 1,0 -2,0zM202.24,205.70a1,1 0 1,0 2,0a1,1 0 1,0 -2,0zM202.75,204.60a1,1 0 1,0 2,0a1,1 0 1,0 -2,0zM180.93,208.36a1,1 0 1,0 2,0a1,1 0 1,0 -2,0zM201.56,208.54a1,1 0 1,0 2,0a1,1 0 1,0 -2,0zM193.08,205.09a1,1 0 1,0 2,0a1,1 0 1,0 -2,0zM195.22,201.79a1,1 0 1,0 2,0a1,1 0 1,0 -2,0zM200.46,209.23a1,1 0 1,0 2,0a1,1 0 1,0 -2,0zM209.73,205.70a1,1 0 1,0 2,0a1,1 0 1,0 -2,0zM205.82,209.72a1,1 0 1,0 2,0a1,1 0 1,0 -2,0zM197.07,206.28a1,1 0 1,0 2,0a1,1 0 1,0 -2,0zM204.95,204.36a1,1 0 1,0 2,0a1,1 0 1,0 -2,0zM182.66,207.47a1,1 0 1,0 2,0a1,1 0 1,0 -2,0zM182.31,204.72a1,1 0 1,0 2,0a1,1 0 1,0 -2,0zM185.92,202.09a1,1 0 1,0 2,0a1,1 0 1,0 -2,0zM208.76,208.78a1,1 0 1,0 2,0a1,1 0 1,0 -2,0zM193.81,203.62a1,1 0 1,0 2,0a1,1 0 1,0 -2,0zM197.87,204.16a1,1 0 1,0 2,0a1,1 0 1,0 -2,0zM192.94,206.37a1,1 0 1,0 2,0a1,1 0 1,0 -2,0zM189.03,209.90a1,1 0 1,0 2,0a1,1 0 1,0 -2,0zM192.46,204.45a1,1 0 1,0 2,0a1,1 0 1,0 -2,0zM198.47,205.16a1,1 0 1,0 2,0a1,1 0 1,0 -2,0zM198.82,202.89a1,1 0 1,0 2,0a1,1 0 1,0 -2,0zM190.58,206.19a1,1 0 1,0 2,0a1,1 0 1,0 -2,0zM200.28,209.70a1,1 0 1,0 2,0a1,1 0 1,0 -2,0zM193.69,204.62a1,1 0 1,0 2,0a1,1 0 1,0 -2,0zM190.92,200.78a1,1 0 1,0 2,0a1,1 0 1,0 -2,0zM197.87,200.62a1,1 0 1,0 2,0a1,1 0 1,0 -2,0zM197.08,206.57a1,1 0 1,0 2,0a1,1 0 1,0 -2,0zM186.68,207.51a1,1 0 1,0 2,0a1,1 0 1,0 -2,0zM183.06,200.91a1,1 0 1,0 2,0a1,1 0 1,0 -2,0zM193.53,199.58a1,1 0 1,0 2,0a1,1 0 1,0 -2,0zM188.36,207.56a1,1 0 1,0 2,0a1,1 0 1,0 -2,0zM188.14,201.25a1,1 0 1,0 2,0a1,1 0 1,0 -2,0zM193.03,209.52a1,1 0 1,0 2,0a1,1 0 1,0 -2,0zM186.66,206.71a1,1 0 1,0 2,0a1,1 0 1,0 -2,0zM199.89,203.61a1,1 0 1,0 2,0a1,1 0 1,0 -2,0zM190.23,199.62a1,1 0 1,0 2,0a1,1 0 1,0 -2,0zM181.35,208.88a1,1 0 1,0 2,0a1,1 0 1,0 -2,0zM207.72,208.78a1,1 0 1,0 2,0a1,1 0 1,0 -2,0zM189.00,205.58a1,1 0 1,0 2,0a1,1 0 1,0 -2,0zM192.41,209.36a1,1 0 1,0 2,0a1,1 0 1,0 -2,0zM194.32,207.22a1,1 0 1,0 2,0a1,1 0 1,0 -2,0zM204.18,207.78a1,1 0 1,0 2,0a1,1 0 1,0 -2,0zM198.86,208.32a1,1 0 1,0 2,0a1,1 0 1,0 -2,0zM188.14,200.18a1,1 0 1,0 2,0a1,1 0 1,0 -2,0zM183.81,198.21a1,1 0 1,0 2,0a1,1 0 1,0 -2,0zM209.24,208.21a1,1 0 1,0 2,0a1,1 0 1,0 -2,0zM195.06,200.83a1,1 0 1,0 2,0a1,1 0 1,0 -2,0zM190.54,205.36a1,1 0 1,0 2,0a1,1 0 1,0 -2,0zM190.83,199.12a1,1 0 1,0 2,0a1,1 0 1,0 -2,0zM183.71,204.11a1,1 0 1,0 2,0a1,1 0 1,0 -2,0zM191.41,197.59a1,1 0 1,0 2,0a1,1 0 1,0 -2,0zM191.41,207.48a1,1 0 1,0 2,0a1,1 0 1,0 -2,0zM192.95,201.60a1,1 0 1,0 2,0a1,1 0 1,0 -2,0zM193.83,199.86a1,1 0 1,0 2,0a1,1 0 1,0 -2,0zM206.94,207.34a1,1 0 1,0 2,0a1,1 0 1,0 -2,0zM199.87,208.66a1,1 0 1,0 2,0a1,1 0 1,0 -2,0zM200.03,206.55a1,1 0 1,0 2,0a1,1 0 1,0 -2,0zM183.09,204.55a1,1 0 1,0 2,0a1,1 0 1,0 -2,0zM184.31,207.11a1,1 0 1,0 2,0a1,1 0 1,0 -2,0zM203.02,203.51a1,1 0 1,0 2,0a1,1 0 1,0 -2,0zM181.83,200.94a1,1 0 1,0 2,0a1,1 0 1,0 -2,0zM202.61,201.89a1,1 0 1,0 2,0a1,1 0 1,0 -2,0zM191.90,201.30a1,1 0 1,0 2,0a1,1 0 1,0 -2,0zM192.38,206.74a1,1 0 1,0 2,0a1,1 0 1,0 -2,0zM200.73,206.86a1,1 0 1,0 2,0a1,1 0 1,0 -2,0zM195.51,203.13a1,1 0 1,0 2,0a1,1 0 1,0 -2,0zM185.58,200.16a1,1 0 1,0 2,0a1,1 0 1,0 -2,0zM197.57,200.81a1,1 0 1,0 2,0a1,1 0 1,0 -2,0zM200.73,209.56a1,1 0 1,0 2,0a1,1 0 1,0 -2,0zM197.54,200.16a1,1 0 1,0 2,0a1,1 0 1,0 -2,0zM180.69,203.07a1,1 0 1,0 2,0a1,1 0 1,0 -2,0zM185.17,201.44a1,1 0 1,0 2,0a1,1 0 1,0 -2,0zM204.65,204.13a1,1 0 1,0 2,0a1,1 0 1,0 -2,0zM201.62,208.24a1,1 0 1,0 2,0a1,1 0 1,0 -2,0zM202.01,209.66a1,1 0 1,0 2,0a1,1 0 1,0 -2,0zM200.26,209.63a1,1 0 1,0 2,0a1,1 0 1,0 -2,0zM187.26,199.10a1,1 0 1,0 2,0a1,1 0 1,0 -2,0zM192.70,206.49a1,1 0 1,0 2,0a1,1 0 1,0 -2,0zM182.78,207.92a1,1 0 1,0 2,0a1,1 0 1,0 -2,0zM190.70,204.45a1,1 0 1,0 2,0a1,1 0 1,0 -2,0zM193.09,203.16a1,1 0 1,0 2,0a1,1 0 1,0 -2,0zM197.55,209.59a1,1 0 1,0 2,0a1,1 0 1,0 -2,0zM196.33,198.13a1,1 0 1,0 2,0a1,1 0 1,0 -2,0zM203.17,206.88a1,1 0 1,0 2,0a1,1 0 1,0 -2,0zM200.28,205.46a1,1 0 1,0 2,0a1,1 0 1,0 -2,0zM200.18,203.85a1,1 0 1,0 2,0a1,1 0 1,0 -2,0zM200.36,204.26a1,1 0 1,0 2,0a1,1 0 1,0 -2,0zM199.37,205.14a1,1 0 1,0 2,0a1,1 0 1,0 -2,0zM206.70,205.48a1,1 0 1,0 2,0a1,1 0 1,0 -2,0zM189.95,206.37a1,1 0 1,0 2,0a1,1 0 1,0 -2,0zM196.65,205.37a1,1 0 1,0 2,0a1,1 0 1,0 -2,0zM189.37,198.92a1,1 0 1,0 2,0a1,1 0 1,0 -2,0zM201.48,206.84a1,1 0 1,0 2,0a1,1 0 1,0 -2,0zM202.19,201.42a1,1 0 1,0 2,0a1,1 0 1,0 -2,0zM191.50,208.45a1,1 0 1,0 2,0a1,1 0 1,0 -2,0zM190.62,201.06a1,1 0 1,0 2,0a1,1 0 1,0 -2,0zM196.24,207.07a1,1 0 1,0 2,0a1,1 0 1,0 -2,0zM188.11,197.87a1,1 0 1,0 2,0a1,1 0 1,0 -2,0zM203.37,206.46a1,1 0 1,0 2,0a1,1 0 1,0 -2,0zM204.47,206.76a1,1 0 1,0 2,0a1,1 0 1,0 -2,0zM184.39,201.96a1,1 0 1,0 2,0a1,1 0 1,0 -2,0zM195.83,204.29a1,1 0 1,0 2,0a1,1 0 1,0 -2,0zM187.50,207.21a1,1 0 1,0 2,0a1,1 0 1,0 -2,0zM191.49,204.07a1,1 0 1,0 2,0a1,1 0 1,0 -2,0zM199.01,209.88a1,1 0 1,0 2,0a1,1 0 1,0 -2,0zM188.98,208.28a1,1 0 1,0 2,0a1,1 0 1,0 -2,0zM198.04,206.46a1,1 0 1,0 2,0a1,1 0 1,0 -2,0zM203.11,205.57a1,1 0 1,0 2,0a1,1 0 1,0 -2,0zM195.71,202.81a1,1 0 1,0 2,0a1,1 0 1,0 -2,0zM199.38,202.59a1,1 0 1,0 2,0a1,1 0 1,0 -2,0zM208.77,208.72a1,1 0 1,0 2,0a1,1 0 1,0 -2,0zM203.77,205.04a1,1 0 1,0 2,0a1,1 0 1,0 -2,0zM190.80,199.70a1,1 0 1,0 2,0a1,1 0 1,0 -2,0zM196.17,209.24a1,1 0 1,0 2,0a1,1 0 1,0 -2,0zM206.12,206.02a1,1 0 1,0 2,0a1,1 0 1,0 -2,0zM201.48,206.63a1,1 0 1,0 2,0a1,1 0 1,0 -2,0zM204.20,209.26a1,1 0 1,0 2,0a1,1 0 1,0 -2,0zM193.11,206.87a1,1 0 1,0 2,0a1,1 0 1,0 -2,0zM182.34,199.24a1,1 0 1,0 2,0a1,1 0 1,0 -2,0zM194.91,206.08a1,1 0 1,0 2,0a1,1 0 1,0 -2,0zM192.66,205.39a1,1 0 1,0 2,0a1,1 0 1,0 -2,0zM193.93,206.87a1,1 0 1,0 2,0a1,1 0 1,0 -2,0zM185.42,208.82a1,1 0 1,0 2,0a1,1 0 1,0 -2,0zM191.01,201.58a1,1 0 1,0 2,0a1,1 0 1,0 -2,0zM197.89,199.57a1,1 0 1,0 2,0a1,1 0 1,0 -2,0zM186.27,207.23a1,1 0 1,0 2,0a1,1 0 1,0 -2,0zM193.80,199.18a1,1 0 1,0 2,0a1,1 0 1,0 -2,0zM185.12,202.03a1,1 0 1,0 2,0a1,1 0 1,0 -2,0zM185.05,203.22a1,1 0 1,0 2,0a1,1 0 1,0 -2,0zM180.67,202.64a1,1 0 1,0 2,0a1,1 0 1,0 -2,0zM192.10,201.93a1,1 0 1,0 2,0a1,1 0 1,0 -2,0zM182.83,203.00a1,1 0 1,0 2,0a1,1 0 1,0 -2,0zM198.67,201.25a1,1 0 1,0 2,0a1,1 0 1,0 -2,0zM181.56,206.47a1,1 0 1,0 2,0a1,1 0 1,0 -2,0zM189.02,199.92a1,1 0 1,0 2,0a1,1 0 1,0 -2,0zM204.44,205.12a1,1 0 1,0 2,0a1,1 0 1,0 -2,0zM186.02,209.84a1,1 0 1,0 2,0a1,1 0 1,0 -2,0zM204.11,209.07a1,1 0 1,0 2,0a1,1 0 1,0 -2,0zM181.03,200.67a1,1 0 1,0 2,0a1,1 0 1,0 -2,0zM188.80,208.14a1,1 0 1,0 2,0a1,1 0 1,0 -2,0zM202.19,206.56a1,1 0 1,0 2,0a1,1 0 1,0 -2,0zM196.60,209.15a1,1 0 1,0 2,0a1,1 0 1,0 -2,0zM194.42,200.19a1,1 0 1,0 2,0a1,1 0 1,0 -2,0zM201.62,204.80a1,1 0 1,0 2,0a1,1 0 1,0 -2,0zM191.60,203.17a1,1 0 1,0 2,0a1,1 0 1,0 -2,0zM231.21,206.29a1,1 0 1,0 2,0a1,1 0 1,0 -2,0zM237.59,199.41a1,1 0 1,0 2,0a1,1 0 1,0 -2,0zM235.58,197.90a1,1 0 1,0 2,0a1,1 0 1,0 -2,0zM225.52,209.67a1,1 0 1,0 2,0a1,1 0 1,0 -2,0zM234.50,206.78a1,1 0 1,0 2,0a1,1 0 1,0 -2,0zM221.90,207.37a1,1 0 1,0 2,0a1,1 0 1,0 -2,0zM220.58,209.66a1,1 0 1,0 2,0a1,1 0 1,0 -2,0zM241.44,195.39a1,1 0 1,0 2,0a1,1 0 1,0 -2,0zM225.35,207.44a1,1 0 1,0 2,0a1,1 0 1,0 -2,0zM228.31,203.77a1,1 0 1,0 2,0a1,1 0 1,0 -2,0zM222.66,207.53a1,1 0 1,0 2,0a1,1 0 1,0 -2,0zM239.56,197.34a1,1 0 1,0 2,0a1,1 0 1,0 -2,0zM231.14,205.79a1,1 0 1,0 2,0a1,1 0 1,0 -2,0zM228.31,201.85a1,1 0 1,0 2,0a1,1 0 1,0 -2,0zM233.26,205.91a1,1 0 1,0 2,0a1,1 0 1,0 -2,0zM235.56,203.82a1,1 0 1,0 2,0a1,1 0 1,0 -2,0zM228.41,210.13a1,1 0 1,0 2,0a1,1 0 1,0 -2,0zM241.67,209.38a1,1 0 1,0 2,0a1,1 0 1,0 -2,0zM237.34,198.77a1,1 0 1,0 2,0a1,1 0 1,0 -2,0zM237.88,198.47a1,1 0 1,0 2,0a1,1 0 1,0 -2,0zM228.27,206.02a1,1 0 1,0 2,0a1,1 0 1,0 -2,0zM232.62,202.78a1,1 0 1,0 2,0a1,1 0 1,0 -2,0zM240.46,198.62a1,1 0 1,0 2,0a1,1 0 1,0 -2,0zM241.28,207.08a1,1 0 1,0 2,0a1,1 0 1,0 -2,0zM225.82,207.07a1,1 0 1,0 2,0a1,1 0 1,0 -2,0zM238.85,209.86a1,1 0 1,0 2,0a1,1 0 1,0 -2,0zM225.93,206.99a1,1 0 1,0 2,0a1,1 0 1,0 -2,0zM230.31,204.17a1,1 0 1,0 2,0a1,1 0 1,0 -2,0zM241.90,207.10a1,1 0 1,0 2,0a1,1 0 1,0 -2,0zM223.26,206.28a1,1 0 1,0 2,0a1,1 0 1,0 -2,0zM232.21,207.46a1,1 0 1,0 2,0a1,1 0 1,0 -2,0zM241.53,208.68a1,1 0 1,0 2,0a1,1 0 1,0 -2,0zM235.97,209.04a1,1 0 1,0 2,0a1,1 0 1,0 -2,0zM234.46,200.71a1,1 0 1,0 2,0a1,1 0 1,0 -2,0zM236.41,210.07a1,1 0 1,0 2,0a1,1 0 1,0 -2,0zM230.92,207.01a1,1 0 1,0 2,0a1,1 0 1,0 -2,0zM243.02,196.52a1,1 0 1,0 2,0a1,1 0 1,0 -2,0zM239.86,209.09a1,1 0 1,0 2,0a1,1 0 1,0 -2,0zM233.19,201.90a1,1 0 1,0 2,0a1,1 0 1,0 -2,0zM237.03,208.77a1,1 0 1,0 2,0a1,1 0 1,0 -2,0zM236.05,200.02a1,1 0 1,0 2,0a1,1 0 1,0 -2,0zM241.50,209.56a1,1 0 1,0 2,0a1,1 0 1,0 -2,0zM224.68,208.92a1,1 0 1,0 2,0a1,1 0 1,0 -2,0zM229.20,207.42a1,1 0 1,0 2,0a1,1 0 1,0 -2,0zM226.50,209.39a1,1 0 1,0 2,0a1,1 0 1,0 -2,0zM226.01,209.88a1,1 0 1,0 2,0a1,1 0 1,0 -2,0zM237.83,207.58a1,1 0 1,0 2,0a1,1 0 1,0 -2,0zM226.77,209.57a1,1 0 1,0 2,0a1,1 0 1,0 -2,0zM224.27,210.08a1,1 0 1,0 2,0a1,1 0 1,0 -2,0zM221.31,206.30a1,1 0 1,0 2,0a1,1 0 1,0 -2,0zM224.55,207.33a1,1 0 1,0 2,0a1,1 0 1,0 -2,0zM221.17,209.56a1,1 0 1,0 2,0a1,1 0 1,0 -2,0zM229.36,210.00a1,1 0 1,0 2,0a1,1 0 1,0 -2,0zM241.96,195.25a1,1 0 1,0 2,0a1,1 0 1,0 -2,0zM243.52,197.98a1,1 0 1,0 2,0a1,1 0 1,0 -2,0zM242.82,201.86a1,1 0 1,0 2,0a1,1 0 1,0 -2,0zM228.29,206.12a1,1 0 1,0 2,0a1,1 0 1,0 -2,0zM233.65,201.52a1,1 0 1,0 2,0a1,1 0 1,0 -2,0zM242.39,207.74a1,1 0 1,0 2,0a1,1 0 1,0 -2,0zM234.41,199.24a1,1 0 1,0 2,0a1,1 0 1,0 -2,0zM242.47,207.97a1,1 0 1,0 2,0a1,1 0 1,0 -2,0zM226.88,209.82a1,1 0 1,0 2,0a1,1 0 1,0 -2,0zM226.78,209.66a1,1 0 1,0 2,0a1,1 0 1,0 -2,0zM243.68,202.56a1,1 0 1,0 2,0a1,1 0 1,0 -2,0zM230.21,207.73a1,1 0 1,0 2,0a1,1 0 1,0 -2,0zM221.42,207.84a1,1 0 1,0 2,0a1,1 0 1,0 -2,0zM243.55,199.94a1,1 0 1,0 2,0a1,1 0 1,0 -2,0zM233.17,208.32a1,1 0 1,0 2,0a1,1 0 1,0 -2,0zM240.82,205.52a1,1 0 1,0 2,0a1,1 0 1,0 -2,0zM235.64,208.18a1,1 0 1,0 2,0a1,1 0 1,0 -2,0zM228.90,203.96a1,1 0 1,0 2,0a1,1 0 1,0 -2,0zM232.93,208.93a1,1 0 1,0 2,0a1,1 0 1,0 -2,0zM237.70,207.42a1,1 0 1,0 2,0a1,1 0 1,0 -2,0zM241.91,201.15a1,1 0 1,0 2,0a1,1 0 1,0 -2,0zM222.90,208.26a1,1 0 1,0 2,0a1,1 0 1,0 -2,0zM231.41,208.42a1,1 0 1,0 2,0a1,1 0 1,0 -2,0zM224.56,207.34a1,1 0 1,0 2,0a1,1 0 1,0 -2,0zM239.98,196.98a1,1 0 1,0 2,0a1,1 0 1,0 -2,0zM229.33,202.29a1,1 0 1,0 2,0a1,1 0 1,0 -2,0zM235.09,204.69a1,1 0 1,0 2,0a1,1 0 1,0 -2,0zM222.33,209.86a1,1 0 1,0 2,0a1,1 0 1,0 -2,0zM238.09,210.07a1,1 0 1,0 2,0a1,1 0 1,0 -2,0zM230.13,208.49a1,1 0 1,0 2,0a1,1 0 1,0 -2,0zM233.99,208.32a1,1 0 1,0 2,0a1,1 0 1,0 -2,0zM242.44,202.48a1,1 0 1,0 2,0a1,1 0 1,0 -2,0zM543.19,207.12a1,1 0 1,0 2,0a1,1 0 1,0 -2,0zM538.40,209.03a1,1 0 1,0 2,0a1,1 0 1,0 -2,0zM544.74,197.10a1,1 0 1,0 2,0a1,1 0 1,0 -2,0zM544.82,203.49a1,1 0 1,0 2,0a1,1 0 1,0 -2,0zM550.99,207.92a1,1 0 1,0 2,0a1,1 0 1,0 -2,0zM550.19,197.11a1,1 0 1,0 2,0a1,1 0 1,0 -2,0zM542.25,198.77a1,1 0 1,0 2,0a1,1 0 1,0 -2,0zM552.39,208.35a1,1 0 1,0 2,0a1,1 0 1,0 -2,0zM536.51,196.85a1,1 0 1,0 2,0a1,1 0 1,0 -2,0zM541.43,199.95a1,1 0 1,0 2,0a1,1 0 1,0 -2,0zM539.85,195.70a1,1 0 1,0 2,0a1,1 0 1,0 -2,0zM542.50,202.64a1,1 0 1,0 2,0a1,1 0 1,0 -2,0zM541.25,202.25a1,1 0 1,0 2,0a1,1 0 1,0 -2,0zM547.33,200.77a1,1 0 1,0 2,0a1,1 0 1,0 -2,0zM551.45,207.15a1,1 0 1,0 2,0a1,1 0 1,0 -2,0zM535.65,204.97a1,1 0 1,0 2,0a1,1 0 1,0 -2,0zM550.04,202.93a1,1 0 1,0 2,0a1,1 0 1,0 -2,0zM544.73,207.02a1,1 0 1,0 2,0a1,1 0 1,0 -2,0zM545.02,207.21a1,1 0 1,0 2,0a1,1 0 1,0 -2,0zM550.79,202.45a1,1 0 1,0 2,0a1,1 0 1,0 -2,0zM554.20,207.53a1,1 0 1,0 2,0a1,1 0 1,0 -2,0zM556.70,206.79a1,1 0 1,0 2,0a1,1 0 1,0 -2,0zM548.64,205.25a1,1 0 1,0 2,0a1,1 0 1,0 -2,0zM543.45,202.68a1,1 0 1,0 2,0a1,1 0 1,0 -2,0zM549.14,202.61a1,1 0 1,0 2,0a1,1 0 1,0 -2,0zM533.85,202.48a1,1 0 1,0 2,0a1,1 0 1,0 -2,0zM549.85,196.64a1,1 0 1,0 2,0a1,1 0 1,0 -2,0zM536.10,200.25a1,1 0 1,0 2,0a1,1 0 1,0 -2,0zM543.54,197.08a1,1 0 1,0 2,0a1,1 0 1,0 -2,0zM544.98,208.12a1,1 0 1,0 2,0a1,1 0 1,0 -2,0zM544.40,200.08a1,1 0 1,0 2,0a1,1 0 1,0 -2,0zM534.05,208.50a1,1 0 1,0 2,0a1,1 0 1,0 -2,0zM535.84,202.74a1,1 0 1,0 2,0a1,1 0 1,0 -2,0zM533.56,204.76a1,1 0 1,0 2,0a1,1 0 1,0 -2,0zM539.50,205.66a1,1 0 1,0 2,0a1,1 0 1,0 -2,0zM548.35,198.12a1,1 0 1,0 2,0a1,1 0 1,0 -2,0zM540.68,207.32a1,1 0 1,0 2,0a1,1 0 1,0 -2,0zM544.11,204.51a1,1 0 1,0 2,0a1,1 0 1,0 -2,0zM551.91,197.94a1,1 0 1,0 2,0a1,1 0 1,0 -2,0zM546.23,199.94a1,1 0 1,0 2,0a1,1 0 1,0 -2,0zM535.42,203.80a1,1 0 1,0 2,0a1,1 0 1,0 -2,0zM553.04,205.13a1,1 0 1,0 2,0a1,1 0 1,0 -2,0zM535.12,209.00a1,1 0 1,0 2,0a1,1 0 1,0 -2,0zM543.60,205.30a1,1 0 1,0 2,0a1,1 0 1,0 -2,0zM545.15,204.23a1,1 0 1,0 2,0a1,1 0 1,0 -2,0zM547.25,207.53a1,1 0 1,0 2,0a1,1 0 1,0 -2,0zM551.42,199.98a1,1 0 1,0 2,0a1,1 0 1,0 -2,0zM537.85,204.72a1,1 0 1,0 2,0a1,1 0 1,0 -2,0zM538.32,204.69a1,1 0 1,0 2,0a1,1 0 1,0 -2,0zM531.85,201.93a1,1 0 1,0 2,0a1,1 0 1,0 -2,0zM542.57,204.21a1,1 0 1,0 2,0a1,1 0 1,0 -2,0zM539.98,197.52a1,1 0 1,0 2,0a1,1 0 1,0 -2,0zM533.49,198.83a1,1 0 1,0 2,0a1,1 0 1,0 -2,0zM545.18,203.14a1,1 0 1,0 2,0a1,1 0 1,0 -2,0zM537.90,205.66a1,1 0 1,0 2,0a1,1 0 1,0 -2,0zM548.22,205.25a1,1 0 1,0 2,0a1,1 0 1,0 -2,0zM542.09,198.72a1,1 0 1,0 2,0a1,1 0 1,0 -2,0zM551.66,201.65a1,1 0 1,0 2,0a1,1 0 1,0 -2,0zM555.09,202.90a1,1 0 1,0 2,0a1,1 0 1,0 -2,0zM534.17,201.64a1,1 0 1,0 2,0a1,1 0 1,0 -2,0zM537.44,208.15a1,1 0 1,0 2,0a1,1 0 1,0 -2,0zM548.56,198.66a1,1 0 1,0 2,0a1,1 0 1,0 -2,0zM538.81,198.67a1,1 0 1,0 2,0a1,1 0 1,0 -2,0zM532.14,208.75a1,1 0 1,0 2,0a1,1 0 1,0 -2,0zM533.17,205.40a1,1 0 1,0 2,0a1,1 0 1,0 -2,0zM550.99,201.78a1,1 0 1,0 2,0a1,1 0 1,0 -2,0zM533.15,204.31a1,1 0 1,0 2,0a1,1 0 1,0 -2,0zM541.96,204.88a1,1 0 1,0 2,0a1,1 0 1,0 -2,0zM541.16,201.12a1,1 0 1,0 2,0a1,1 0 1,0 -2,0zM550.19,197.95a1,1 0 1,0 2,0a1,1 0 1,0 -2,0zM550.34,208.64a1,1 0 1,0 2,0a1,1 0 1,0 -2,0zM536.27,199.15a1,1 0 1,0 2,0a1,1 0 1,0 -2,0zM537.23,202.94a1,1 0 1,0 2,0a1,1 0 1,0 -2,0zM537.28,196.78a1,1 0 1,0 2,0a1,1 0 1,0 -2,0zM535.64,201.67a1,1 0 1,0 2,0a1,1 0 1,0 -2,0zM553.98,202.64a1,1 0 1,0 2,0a1,1 0 1,0 -2,0zM538.08,197.36a1,1 0 1,0 2,0a1,1 0 1,0 -2,0zM536.11,203.27a1,1 0 1,0 2,0a1,1 0 1,0 -2,0zM550.92,201.32a1,1 0 1,0 2,0a1,1 0 1,0 -2,0zM544.08,200.62a1,1 0 1,0 2,0a1,1 0 1,0 -2,0zM541.27,203.88a1,1 0 1,0 2,0a1,1 0 1,0 -2,0zM554.17,206.25a1,1 0 1,0 2,0a1,1 0 1,0 -2,0zM551.19,207.76a1,1 0 1,0 2,0a1,1 0 1,0 -2,0zM546.46,208.49a1,1 0 1,0 2,0a1,1 0 1,0 -2,0zM553.24,207.87a1,1 0 1,0 2,0a1,1 0 1,0 -2,0zM541.98,198.83a1,1 0 1,0 2,0a1,1 0 1,0 -2,0zM536.96,207.79a1,1 0 1,0 2,0a1,1 0 1,0 -2,0zM545.56,200.09a1,1 0 1,0 2,0a1,1 0 1,0 -2,0zM550.58,206.54a1,1 0 1,0 2,0a1,1 0 1,0 -2,0zM537.51,197.12a1,1 0 1,0 2,0a1,1 0 1,0 -2,0zM556.18,207.85a1,1 0 1,0 2,0a1,1 0 1,0 -2,0zM545.50,195.78a1,1 0 1,0 2,0a1,1 0 1,0 -2,0zM532.46,207.84a1,1 0 1,0 2,0a1,1 0 1,0 -2,0zM538.49,208.47a1,1 0 1,0 2,0a1,1 0 1,0 -2,0zM546.43,197.84a1,1 0 1,0 2,0a1,1 0 1,0 -2,0zM553.66,199.26a1,1 0 1,0 2,0a1,1 0 1,0 -2,0zM539.53,195.74a1,1 0 1,0 2,0a1,1 0 1,0 -2,0zM545.12,200.23a1,1 0 1,0 2,0a1,1 0 1,0 -2,0zM542.38,205.75a1,1 0 1,0 2,0a1,1 0 1,0 -2,0zM553.04,201.33a1,1 0 1,0 2,0a1,1 0 1,0 -2,0zM544.41,206.95a1,1 0 1,0 2,0a1,1 0 1,0 -2,0zM540.40,199.60a1,1 0 1,0 2,0a1,1 0 1,0 -2,0zM545.17,201.33a1,1 0 1,0 2,0a1,1 0 1,0 -2,0zM535.84,209.02a1,1 0 1,0 2,0a1,1 0 1,0 -2,0zM551.68,197.99a1,1 0 1,0 2,0a1,1 0 1,0 -2,0zM545.06,206.84a1,1 0 1,0 2,0a1,1 0 1,0 -2,0zM553.80,208.99a1,1 0 1,0 2,0a1,1 0 1,0 -2,0zM542.74,205.38a1,1 0 1,0 2,0a1,1 0 1,0 -2,0zM553.76,202.39a1,1 0 1,0 2,0a1,1 0 1,0 -2,0zM533.23,206.70a1,1 0 1,0 2,0a1,1 0 1,0 -2,0zM536.48,204.95a1,1 0 1,0 2,0a1,1 0 1,0 -2,0zM544.28,208.34a1,1 0 1,0 2,0a1,1 0 1,0 -2,0zM549.32,205.38a1,1 0 1,0 2,0a1,1 0 1,0 -2,0zM550.92,204.68a1,1 0 1,0 2,0a1,1 0 1,0 -2,0zM536.64,202.98a1,1 0 1,0 2,0a1,1 0 1,0 -2,0zM588.97,202.75a1,1 0 1,0 2,0a1,1 0 1,0 -2,0zM588.20,207.64a1,1 0 1,0 2,0a1,1 0 1,0 -2,0zM589.84,202.67a1,1 0 1,0 2,0a1,1 0 1,0 -2,0zM583.59,205.74a1,1 0 1,0 2,0a1,1 0 1,0 -2,0zM580.55,206.54a1,1 0 1,0 2,0a1,1 0 1,0 -2,0zM590.31,206.11a1,1 0 1,0 2,0a1,1 0 1,0 -2,0zM581.68,208.81a1,1 0 1,0 2,0a1,1 0 1,0 -2,0zM580.79,204.59a1,1 0 1,0 2,0a1,1 0 1,0 -2,0zM590.63,205.17a1,1 0 1,0 2,0a1,1 0 1,0 -2,0zM585.89,204.60a1,1 0 1,0 2,0a1,1 0 1,0 -2,0zM583.17,203.67a1,1 0 1,0 2,0a1,1 0 1,0 -2,0zM579.92,207.52a1,1 0 1,0 2,0a1,1 0 1,0 -2,0zM577.19,204.13a1,1 0 1,0 2,0a1,1 0 1,0 -2,0zM578.29,208.80a1,1 0 1,0 2,0a1,1 0 1,0 -2,0zM588.41,205.42a1,1 0 1,0 2,0a1,1 0 1,0 -2,0zM582.25,203.27a1,1 0 1,0 2,0a1,1 0 1,0 -2,0zM588.03,201.26a1,1 0 1,0 2,0a1,1 0 1,0 -2,0zM585.32,204.40a1,1 0 1,0 2,0a1,1 0 1,0 -2,0zM589.18,203.62a1,1 0 1,0 2,0a1,1 0 1,0 -2,0zM576.06,204.02a1,1 0 1,0 2,0a1,1 0 1,0 -2,0zM583.85,201.60a1,1 0 1,0 2,0a1,1 0 1,0 -2,0zM576.55,207.55a1,1 0 1,0 2,0a1,1 0 1,0 -2,0zM578.94,205.89a1,1 0 1,0 2,0a1,1 0 1,0 -2,0zM576.02,206.36a1,1 0 1,0 2,0a1,1 0 1,0 -2,0zM588.51,204.34a1,1 0 1,0 2,0a1,1 0 1,0 -2,0zM582.07,205.78a1,1 0 1,0 2,0a1,1 0 1,0 -2,0zM579.40,201.11a1,1 0 1,0 2,0a1,1 0 1,0 -2,0zM577.98,206.92a1,1 0 1,0 2,0a1,1 0 1,0 -2,0zM586.48,201.71a1,1 0 1,0 2,0a1,1 0 1,0 -2,0zM587.35,207.12a1,1 0 1,0 2,0a1,1 0 1,0 -2,0zM580.86,204.75a1,1 0 1,0 2,0a1,1 0 1,0 -2,0zM585.70,203.23a1,1 0 1,0 2,0a1,1 0 1,0 -2,0zM588.75,209.19a1,1 0 1,0 2,0a1,1 0 1,0 -2,0zM578.48,206.44a1,1 0 1,0 2,0a1,1 0 1,0 -2,0zM588.63,201.71a1,1 0 1,0 2,0a1,1 0 1,0 -2,0zM589.92,205.32a1,1 0 1,0 2,0a1,1 0 1,0 -2,0zM584.25,202.64a1,1 0 1,0 2,0a1,1 0 1,0 -2,0zM589.61,206.45a1,1 0 1,0 2,0a1,1 0 1,0 -2,0zM578.20,206.13a1,1 0 1,0 2,0a1,1 0 1,0 -2,0zM583.63,201.91a1,1 0 1,0 2,0a1,1 0 1,0 -2,0zM582.40,205.16a1,1 0 1,0 2,0a1,1 0 1,0 -2,0zM584.42,208.66a1,1 0 1,0 2,0a1,1 0 1,0 -2,0zM584.56,207.57a1,1 0 1,0 2,0a1,1 0 1,0 -2,0zM588.08,204.85a1,1 0 1,0 2,0a1,1 0 1,0 -2,0zM580.13,204.81a1,1 0 1,0 2,0a1,1 0 1,0 -2,0zM194.34,192.58a1,1 0 1,0 2,0a1,1 0 1,0 -2,0zM192.60,197.55a1,1 0 1,0 2,0a1,1 0 1,0 -2,0zM189.70,195.24a1,1 0 1,0 2,0a1,1 0 1,0 -2,0zM182.33,198.58a1,1 0 1,0 2,0a1,1 0 1,0 -2,0zM202.21,197.60a1,1 0 1,0 2,0a1,1 0 1,0 -2,0zM179.75,198.19a1,1 0 1,0 2,0a1,1 0 1,0 -2,0zM197.60,193.14a1,1 0 1,0 2,0a1,1 0 1,0 -2,0zM203.87,193.55a1,1 0 1,0 2,0a1,1 0 1,0 -2,0zM206.60,194.01a1,1 0 1,0 2,0a1,1 0 1,0 -2,0zM202.44,191.15a1,1 0 1,0 2,0a1,1 0 1,0 -2,0zM194.96,198.59a1,1 0 1,0 2,0a1,1 0 1,0 -2,0zM196.47,193.48a1,1 0 1,0 2,0a1,1 0 1,0 -2,0zM202.01,198.26a1,1 0 1,0 2,0a1,1 0 1,0 -2,0zM196.12,196.27a1,1 0 1,0 2,0a1,1 0 1,0 -2,0zM187.64,194.07a1,1 0 1,0 2,0a1,1 0 1,0 -2,0zM184.43,197.93a1,1 0 1,0 2,0a1,1 0 1,0 -2,0zM202.27,191.69a1,1 0 1,0 2,0a1,1 0 1,0 -2,0zM206.65,198.20a1,1 0 1,0 2,0a1,1 0 1,0 -2,0zM183.84,197.86a1,1 0 1,0 2,0a1,1 0 1,0 -2,0zM190.69,192.22a1,1 0 1,0 2,0a1,1 0 1,0 -2,0zM195.51,193.03a1,1 0 1,0 2,0a1,1 0 1,0 -2,0zM204.48,191.97a1,1 0 1,0 2,0a1,1 0 1,0 -2,0zM233.41,202.15a1,1 0 1,0 2,0a1,1 0 1,0 -2,0zM230.68,198.31a1,1 0 1,0 2,0a1,1 0 1,0 -2,0zM231.67,202.19a1,1 0 1,0 2,0a1,1 0 1,0 -2,0zM226.45,201.90a1,1 0 1,0 2,0a1,1 0 1,0 -2,0zM241.74,196.92a1,1 0 1,0 2,0a1,1 0 1,0 -2,0zM230.43,202.18a1,1 0 1,0 2,0a1,1 0 1,0 -2,0zM228.01,200.80a1,1 0 1,0 2,0a1,1 0 1,0 -2,0zM234.80,197.63a1,1 0 1,0 2,0a1,1 0 1,0 -2,0zM235.05,199.92a1,1 0 1,0 2,0a1,1 0 1,0 -2,0zM227.13,202.85a1,1 0 1,0 2,0a1,1 0 1,0 -2,0zM230.69,201.10a1,1 0 1,0 2,0a1,1 0 1,0 -2,0zM236.28,199.18a1,1 0 1,0 2,0a1,1 0 1,0 -2,0zM232.01,201.33a1,1 0 1,0 2,0a1,1 0 1,0 -2,0zM227.61,202.14a1,1 0 1,0 2,0a1,1 0 1,0 -2,0zM247.59,193.06a1,1 0 1,0 2,0a1,1 0 1,0 -2,0zM229.90,199.84a1,1 0 1,0 2,0a1,1 0 1,0 -2,0zM232.69,197.27a1,1 0 1,0 2,0a1,1 0 1,0 -2,0zM238.11,198.05a1,1 0 1,0 2,0a1,1 0 1,0 -2,0zM544.48,183.62a1,1 0 1,0 2,0a1,1 0 1,0 -2,0zM538.47,192.80a1,1 0 1,0 2,0a1,1 0 1,0 -2,0zM544.25,183.32a1,1 0 1,0 2,0a1,1 0 1,0 -2,0zM538.16,189.88a1,1 0 1,0 2,0a1,1 0 1,0 -2,0zM536.15,191.22a1,1 0 1,0 2,0a1,1 0 1,0 -2,0zM549.05,182.44a1,1 0 1,0 2,0a1,1 0 1,0 -2,0zM545.02,190.67a1,1 0 1,0 2,0a1,1 0 1,0 -2,0zM532.78,192.00a1,1 0 1,0 2,0a1,1 0 1,0 -2,0zM540.90,186.77a1,1 0 1,0 2,0a1,1 0 1,0 -2,0zM535.23,189.56a1,1 0 1,0 2,0a1,1 0 1,0 -2,0zM548.24,185.16a1,1 0 1,0 2,0a1,1 0 1,0 -2,0zM545.33,190.28a1,1 0 1,0 2,0a1,1 0 1,0 -2,0zM591.70,189.20a1,1 0 1,0 2,0a1,1 0 1,0 -2,0zM580.70,200.76a1,1 0 1,0 2,0a1,1 0 1,0 -2,0zM585.00,193.92a1,1 0 1,0 2,0a1,1 0 1,0 -2,0zM594.61,189.97a1,1 0 1,0 2,0a1,1 0 1,0 -2,0zM595.38,195.68a1,1 0 1,0 2,0a1,1 0 1,0 -2,0zM582.37,199.76a1,1 0 1,0 2,0a1,1 0 1,0 -2,0zM587.87,194.40a1,1 0 1,0 2,0a1,1 0 1,0 -2,0zM591.76,191.50a1,1 0 1,0 2,0a1,1 0 1,0 -2,0zM601.86,192.22a1,1 0 1,0 2,0a1,1 0 1,0 -2,0zM594.30,187.53a1,1 0 1,0 2,0a1,1 0 1,0 -2,0zM584.82,197.54a1,1 0 1,0 2,0a1,1 0 1,0 -2,0zM584.22,197.07a1,1 0 1,0 2,0a1,1 0 1,0 -2,0zM592.22,196.51a1,1 0 1,0 2,0a1,1 0 1,0 -2,0zM582.98,196.81a1,1 0 1,0 2,0a1,1 0 1,0 -2,0zM592.82,195.74a1,1 0 1,0 2,0a1,1 0 1,0 -2,0z" fill="#ff0000"/>
<text x="217.00" y="346.70" font-size="13.3" text-anchor="middle" font-weight="bold" fill="#000" >RD</text>
<text x="567.00" y="345.60" font-size="13.0" text-anchor="middle" font-weight="bold" fill="#000" >RH4</text>
<line x1="113.00" y1="577.30" x2="310.50" y2="577.30" stroke="#cfcfcf" stroke-width="1"/>
<rect x="127.00" y="396.00" width="37.00" height="94.21" fill="#0070c0"/>
<rect x="127.00" y="490.21" width="37.00" height="86.39" fill="#ff0000"/>
<rect x="128.25" y="397.25" width="34.50" height="178.10" fill="none" stroke="#000" stroke-width="2.5"/>
<line x1="127.00" y1="490.21" x2="164.00" y2="490.21" stroke="#000" stroke-width="2.2"/>
<text x="145.50" y="447.21" font-size="13.3" text-anchor="middle" fill="#fff" >52%</text>
<text x="145.50" y="537.71" font-size="13.3" text-anchor="middle" fill="#fff" >48%</text>
<rect x="193.00" y="396.00" width="37.00" height="105.05" fill="#0070c0"/>
<rect x="193.00" y="501.05" width="37.00" height="75.55" fill="#ff0000"/>
<rect x="194.25" y="397.25" width="34.50" height="178.10" fill="none" stroke="#000" stroke-width="2.5"/>
<line x1="193.00" y1="501.05" x2="230.00" y2="501.05" stroke="#000" stroke-width="2.2"/>
<text x="211.50" y="452.62" font-size="13.3" text-anchor="middle" fill="#fff" >58%</text>
<text x="211.50" y="543.12" font-size="13.3" text-anchor="middle" fill="#fff" >42%</text>
<rect x="259.00" y="396.00" width="37.00" height="128.53" fill="#0070c0"/>
<rect x="259.00" y="524.53" width="37.00" height="52.07" fill="#ff0000"/>
<rect x="260.25" y="397.25" width="34.50" height="178.10" fill="none" stroke="#000" stroke-width="2.5"/>
<line x1="259.00" y1="524.53" x2="296.00" y2="524.53" stroke="#000" stroke-width="2.2"/>
<text x="277.50" y="464.36" font-size="13.3" text-anchor="middle" fill="#fff" >71%</text>
<text x="277.50" y="554.86" font-size="13.3" text-anchor="middle" fill="#fff" >29%</text>
<line x1="460.00" y1="576.60" x2="658.20" y2="576.60" stroke="#cfcfcf" stroke-width="1"/>
<rect x="474.70" y="396.40" width="36.50" height="92.60" fill="#0070c0"/>
<rect x="474.70" y="489.00" width="36.50" height="87.40" fill="#ff0000"/>
<rect x="475.95" y="397.65" width="34.00" height="177.50" fill="none" stroke="#000" stroke-width="2.5"/>
<line x1="474.70" y1="489.00" x2="511.20" y2="489.00" stroke="#000" stroke-width="2.2"/>
<text x="492.95" y="446.80" font-size="13.3" text-anchor="middle" fill="#fff" >51%</text>
<text x="492.95" y="537.00" font-size="13.3" text-anchor="middle" fill="#fff" >49%</text>
<rect x="541.00" y="396.40" width="36.50" height="125.00" fill="#0070c0"/>
<rect x="541.00" y="521.40" width="36.50" height="55.00" fill="#ff0000"/>
<rect x="542.25" y="397.65" width="34.00" height="177.50" fill="none" stroke="#000" stroke-width="2.5"/>
<line x1="541.00" y1="521.40" x2="577.50" y2="521.40" stroke="#000" stroke-width="2.2"/>
<text x="559.25" y="463.00" font-size="13.3" text-anchor="middle" fill="#fff" >69%</text>
<text x="559.25" y="553.20" font-size="13.3" text-anchor="middle" fill="#fff" >31%</text>
<rect x="607.00" y="396.40" width="36.50" height="164.60" fill="#0070c0"/>
<rect x="607.00" y="561.00" width="36.50" height="15.40" fill="#ff0000"/>
<rect x="608.25" y="397.65" width="34.00" height="177.50" fill="none" stroke="#000" stroke-width="2.5"/>
<line x1="607.00" y1="561.00" x2="643.50" y2="561.00" stroke="#000" stroke-width="2.2"/>
<text x="625.25" y="482.80" font-size="13.3" text-anchor="middle" fill="#fff" >91%</text>
<text x="625.25" y="573.00" font-size="13.3" text-anchor="middle" fill="#fff" >9%</text>
<text x="145.50" y="591.50" font-size="11.7" text-anchor="middle" fill="#000" >LinRNAs</text>
<text x="211.30" y="591.50" font-size="11.7" text-anchor="middle" fill="#000" word-spacing="-1.4">CircRN As</text>
<text x="277.30" y="591.50" font-size="11.7" text-anchor="middle" fill="#000" word-spacing="-1.4">CircRN As</text>
<text x="277.30" y="603.10" font-size="11.7" text-anchor="middle" fill="#000" >HC</text>
<text x="493.10" y="591.90" font-size="11.7" text-anchor="middle" fill="#000" >LinRNAs</text>
<text x="559.10" y="591.90" font-size="11.7" text-anchor="middle" fill="#000" word-spacing="-1.4">CircRN As</text>
<text x="624.90" y="591.90" font-size="11.7" text-anchor="middle" fill="#000" word-spacing="-1.4">CircRN As</text>
<text x="624.90" y="603.50" font-size="11.7" text-anchor="middle" fill="#000" >HC</text>
<circle cx="114" cy="617.9" r="7" fill="#ff0000" stroke="#333" stroke-width="0.6"/>
<text x="126.70" y="622.90" font-size="11.7" text-anchor="start" fill="#000" >Up-regulated</text>
<circle cx="214.2" cy="617.9" r="7" fill="#0070c0" stroke="#333" stroke-width="0.6"/>
<text x="227.80" y="622.90" font-size="11.7" text-anchor="start" fill="#000" >Down-regulated</text>
<circle cx="464.1" cy="618.8" r="7" fill="#ff0000" stroke="#333" stroke-width="0.6"/>
<text x="476.70" y="623.80" font-size="11.7" text-anchor="start" fill="#000" >Up-regulated</text>
<circle cx="564.1" cy="618.8" r="7" fill="#0070c0" stroke="#333" stroke-width="0.6"/>
<text x="577.80" y="623.80" font-size="11.7" text-anchor="start" fill="#000" >Down-regulated</text>
<text x="145.60" y="371.40" font-size="10.1"><tspan font-style="italic">P</tspan> = 9.45 x e<tspan font-size="6.5" dy="-4">-3</tspan></text>
<text x="217.60" y="383.30" font-size="10.1"><tspan font-style="italic">P</tspan> = 7.6 x e<tspan font-size="6.5" dy="-4">-5</tspan></text>
<path d="M143.70,380.70 L143.70,375.40 L206.30,375.40 L206.30,380.70" fill="none" stroke="#9a9a9a" stroke-width="0.9"/>
<path d="M143.70,392.60 L143.70,386.90 L278.60,386.90 L278.60,392.60" fill="none" stroke="#9a9a9a" stroke-width="0.9"/>
<text x="490.20" y="371.40" font-size="10.1"><tspan font-style="italic">P</tspan> = 9.52 x e<tspan font-size="6.5" dy="-4">-11</tspan></text>
<text x="559.40" y="383.00" font-size="10.1"><tspan font-style="italic">P</tspan> = 1.13 x e<tspan font-size="6.5" dy="-4">-13</tspan></text>
<path d="M490.40,380.70 L490.40,375.80 L552.40,375.80 L552.40,380.70" fill="none" stroke="#9a9a9a" stroke-width="0.9"/>
<path d="M490.40,392.40 L490.40,387.20 L625.30,387.20 L625.30,392.40" fill="none" stroke="#9a9a9a" stroke-width="0.9"/>
<text x="223.30" y="694.70" font-size="13.3" text-anchor="middle" font-weight="bold" fill="#000" >RD</text>
<text x="592.90" y="693.80" font-size="13.0" text-anchor="middle" font-weight="bold" fill="#000" >RH4</text>
<line x1="138.00" y1="709.60" x2="138.00" y2="899.50" stroke="#d4d4d4" stroke-width="1"/>
<rect x="138.50" y="717.80" width="149.60" height="16.2" fill="#e5e5e5" stroke="#4d4d4d" stroke-width="1"/>
<text x="127.80" y="728.80" font-size="13.5" text-anchor="end" fill="#000" >discordant lin up</text>
<text x="298.60" y="729.90" font-size="15" text-anchor="start" fill="#000" >478</text>
<rect x="138.50" y="749.44" width="154.70" height="16.2" fill="#e5e5e5" stroke="#4d4d4d" stroke-width="1"/>
<text x="127.80" y="760.44" font-size="13.5" text-anchor="end" fill="#000" >discordant lin down</text>
<text x="303.70" y="761.54" font-size="15" text-anchor="start" fill="#000" >493</text>
<rect x="138.50" y="781.08" width="43.20" height="16.2" fill="#e5e5e5" stroke="#4d4d4d" stroke-width="1"/>
<text x="127.80" y="792.08" font-size="13.5" text-anchor="end" fill="#000" >discordant circ up</text>
<text x="192.20" y="793.18" font-size="15" text-anchor="start" fill="#000" >140</text>
<rect x="138.50" y="812.72" width="60.90" height="16.2" fill="#e5e5e5" stroke="#4d4d4d" stroke-width="1"/>
<text x="127.80" y="823.72" font-size="13.5" text-anchor="end" fill="#000" >discordant circ down</text>
<text x="209.90" y="824.82" font-size="15" text-anchor="start" fill="#000" >197</text>
<rect x="138.50" y="844.36" width="11.60" height="16.2" fill="#e5e5e5" stroke="#4d4d4d" stroke-width="1"/>
<text x="127.80" y="855.36" font-size="13.5" text-anchor="end" fill="#000" >concordant circ up</text>
<text x="160.60" y="856.46" font-size="15" text-anchor="start" fill="#000" >41</text>
<rect x="138.50" y="876.00" width="15.60" height="16.2" fill="#e5e5e5" stroke="#4d4d4d" stroke-width="1"/>
<text x="127.80" y="887.00" font-size="13.5" text-anchor="end" fill="#000" >concordant circ down</text>
<text x="164.60" y="888.10" font-size="15" text-anchor="start" fill="#000" >54</text>
<text x="232.60" y="912.80" font-size="13.5" text-anchor="middle" fill="#000" >Numerosity</text>
<line x1="482.70" y1="709.60" x2="482.70" y2="899.50" stroke="#d4d4d4" stroke-width="1"/>
<rect x="483.20" y="717.80" width="163.90" height="16.2" fill="#e5e5e5" stroke="#4d4d4d" stroke-width="1"/>
<text x="472.80" y="728.80" font-size="13.5" text-anchor="end" fill="#000" >discordant lin up</text>
<text x="657.60" y="729.90" font-size="15" text-anchor="start" fill="#000" >435</text>
<rect x="483.20" y="749.44" width="166.90" height="16.2" fill="#e5e5e5" stroke="#4d4d4d" stroke-width="1"/>
<text x="472.80" y="760.44" font-size="13.5" text-anchor="end" fill="#000" >discordant lin down</text>
<text x="660.60" y="761.54" font-size="15" text-anchor="start" fill="#000" >444</text>
<rect x="483.20" y="781.08" width="28.40" height="16.2" fill="#e5e5e5" stroke="#4d4d4d" stroke-width="1"/>
<text x="472.80" y="792.08" font-size="13.5" text-anchor="end" fill="#000" >discordant circ up</text>
<text x="522.10" y="793.18" font-size="15" text-anchor="start" fill="#000" >78</text>
<rect x="483.20" y="812.72" width="65.60" height="16.2" fill="#e5e5e5" stroke="#4d4d4d" stroke-width="1"/>
<text x="472.80" y="823.72" font-size="13.5" text-anchor="end" fill="#000" >discordant circ down</text>
<text x="559.30" y="824.82" font-size="15" text-anchor="start" fill="#000" >176</text>
<rect x="483.20" y="844.36" width="10.00" height="16.2" fill="#e5e5e5" stroke="#4d4d4d" stroke-width="1"/>
<text x="472.80" y="855.36" font-size="13.5" text-anchor="end" fill="#000" >concordant circ up</text>
<text x="503.70" y="856.46" font-size="15" text-anchor="start" fill="#000" >28</text>
<rect x="483.20" y="876.00" width="22.40" height="16.2" fill="#e5e5e5" stroke="#4d4d4d" stroke-width="1"/>
<text x="472.80" y="887.00" font-size="13.5" text-anchor="end" fill="#000" >concordant circ down</text>
<text x="516.10" y="888.10" font-size="15" text-anchor="start" fill="#000" >61</text>
<text x="577.40" y="912.80" font-size="13.5" text-anchor="middle" fill="#000" >Numerosity</text>
</svg></body></html>
